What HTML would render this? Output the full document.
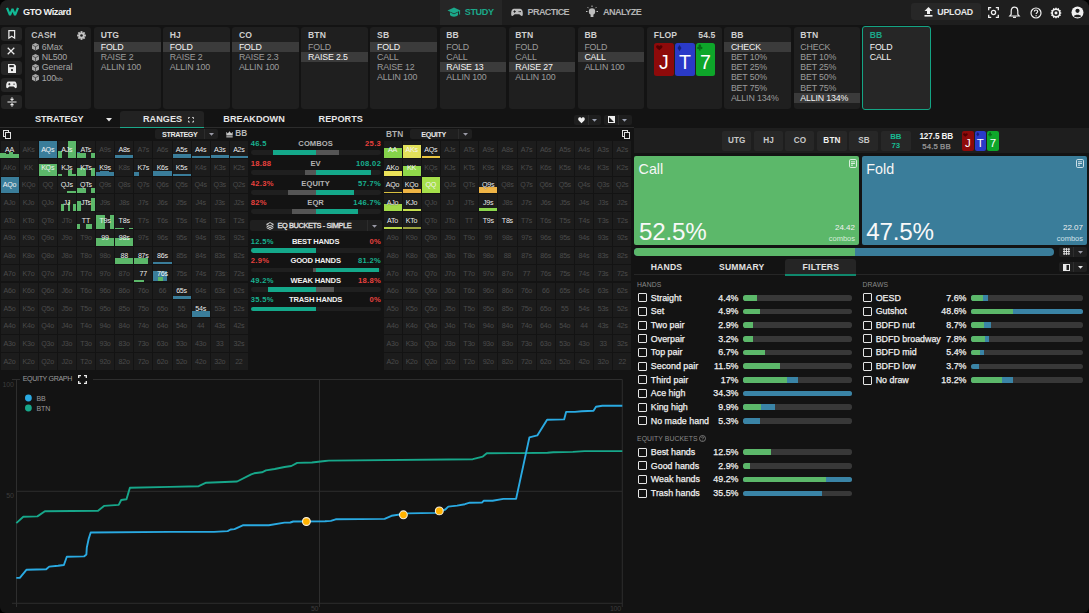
<!DOCTYPE html><html><head><meta charset="utf-8"><style>

*{box-sizing:border-box;margin:0;padding:0}
html,body{width:1089px;height:613px;overflow:hidden;background:#000;font-family:"Liberation Sans", sans-serif;}
#app{position:absolute;left:0;top:0;width:1089px;height:613px;background:#131313;border-radius:8px 8px 6px 6px;overflow:hidden}
.abs{position:absolute}
.t{position:absolute;white-space:nowrap;line-height:1}
svg{position:absolute;overflow:visible}

</style></head><body><div id="app">
<div class="abs" style="left:0.00px;top:0.00px;width:1089.00px;height:24.80px;background:#1e1e1e;"></div>
<svg style="left:5px;top:6px" width="16" height="12" viewBox="0 0 16 12"><path d="M2.0 1.8 L5.0 9.2 L7.5 3.0 L10.0 9.2 L13.0 1.8" fill="none" stroke="#12b894" stroke-width="2.2" stroke-linejoin="bevel"/></svg>
<div class="t" style="top:7.57px;font-size:9.2px;color:#f2f2f2;font-weight:700;letter-spacing:-0.45px;left:23.00px;">GTO Wizard</div>
<div class="abs" style="left:439.50px;top:0.00px;width:62.80px;height:24.80px;background:#262626;"></div>
<svg style="left:447px;top:7px" width="14" height="11" viewBox="0 0 14 11"><path d="M7 0.5 L13.5 3.5 L7 6.5 L0.5 3.5 Z" fill="#1ba88a"/><path d="M3 5.3 V8 C4.5 10.3 9.5 10.3 11 8 V5.3 L7 7.2 Z" fill="#1ba88a"/><path d="M12.6 4 V7.5" stroke="#1ba88a" stroke-width="1"/></svg>
<div class="t" style="top:8.01px;font-size:9.1px;color:#1ba88a;font-weight:700;letter-spacing:-0.4px;left:464.80px;">STUDY</div>
<svg style="left:511px;top:8.3px" width="12" height="9" viewBox="0 0 13 9"><path d="M3 0.5 H10 C12 0.5 12.8 3 12.8 6 C12.8 8.5 11.5 8.8 10.3 7.6 L9 6.3 H4 L2.7 7.6 C1.5 8.8 0.2 8.5 0.2 6 C0.2 3 1 0.5 3 0.5 Z" fill="#bdbdbd"/><rect x="2.6" y="3" width="2.6" height="1" fill="#1e1e1e"/><rect x="3.4" y="2.2" width="1" height="2.6" fill="#1e1e1e"/><circle cx="8.8" cy="3.5" r="0.7" fill="#1e1e1e"/><circle cx="10.2" cy="3.5" r="0.7" fill="#1e1e1e"/></svg>
<div class="t" style="top:8.01px;font-size:9.1px;color:#b4b4b4;font-weight:700;letter-spacing:-0.62px;left:527.50px;">PRACTICE</div>
<svg style="left:585px;top:5px" width="14" height="14" viewBox="0 0 14 14"><circle cx="7" cy="6.5" r="3.2" fill="#bdbdbd"/><rect x="5.6" y="9" width="2.8" height="3" fill="#bdbdbd"/><path d="M7 0.5V2 M1 6.5H2.5 M11.5 6.5H13 M2.6 2.2L3.6 3.2 M11.4 2.2L10.4 3.2" stroke="#bdbdbd" stroke-width="1"/></svg>
<div class="t" style="top:8.01px;font-size:9.1px;color:#b4b4b4;font-weight:700;letter-spacing:-0.55px;left:603.00px;">ANALYZE</div>
<div class="abs" style="left:911.00px;top:3.10px;width:69.70px;height:16.90px;background:#272727;border-radius:3px"></div>
<svg style="left:924px;top:7px" width="9" height="10" viewBox="0 0 9 10"><path d="M4.5 0 L8.5 4 H6 V7 H3 V4 H0.5 Z" fill="#f0f0f0"/><rect x="0.5" y="8" width="8" height="1.6" fill="#f0f0f0"/></svg>
<div class="t" style="top:7.76px;font-size:8.8px;color:#e8e8e8;font-weight:700;letter-spacing:-0.25px;left:937.30px;">UPLOAD</div>
<svg style="left:988px;top:7px" width="11" height="11" viewBox="0 0 11 11"><path d="M0.7 3.2V0.7H3.2 M7.8 0.7H10.3V3.2 M10.3 7.8V10.3H7.8 M3.2 10.3H0.7V7.8" fill="none" stroke="#f0f0f0" stroke-width="1.3"/><circle cx="5.5" cy="5.5" r="2.1" fill="none" stroke="#f0f0f0" stroke-width="1.3"/></svg>
<svg style="left:1009px;top:6px" width="11" height="13" viewBox="0 0 11 13"><path d="M5.5 1.2 C2.8 1.2 2.2 3.5 2.2 5.5 V8.3 L0.8 10 H10.2 L8.8 8.3 V5.5 C8.8 3.5 8.2 1.2 5.5 1.2 Z" fill="none" stroke="#f0f0f0" stroke-width="1.2"/><path d="M4 11.3 H7" stroke="#f0f0f0" stroke-width="1.3"/></svg>
<svg style="left:1030px;top:6.5px" width="12" height="12" viewBox="0 0 12 12"><circle cx="6" cy="6" r="5" fill="none" stroke="#f0f0f0" stroke-width="1.2"/><path d="M4.3 4.6 C4.3 3.5 5 3 6 3 C7 3 7.7 3.6 7.7 4.5 C7.7 5.6 6.1 5.8 6.1 7" fill="none" stroke="#f0f0f0" stroke-width="1.2"/><circle cx="6.1" cy="8.8" r="0.7" fill="#f0f0f0"/></svg>
<svg style="left:1050px;top:6.5px" width="12" height="12" viewBox="0 0 13 13"><path d="M6.5 0.3 L7.7 1.8 L9.6 1.2 L10 3 L11.8 3.6 L11.2 5.4 L12.7 6.5 L11.2 7.6 L11.8 9.4 L10 10 L9.6 11.8 L7.7 11.2 L6.5 12.7 L5.3 11.2 L3.4 11.8 L3 10 L1.2 9.4 L1.8 7.6 L0.3 6.5 L1.8 5.4 L1.2 3.6 L3 3 L3.4 1.2 L5.3 1.8 Z" fill="#f0f0f0"/><circle cx="6.5" cy="6.5" r="3.3" fill="#1e1e1e"/><circle cx="6.5" cy="6.5" r="1.6" fill="#f0f0f0"/></svg>
<svg style="left:1071px;top:6px" width="13" height="13" viewBox="0 0 13 13"><circle cx="6.5" cy="6.5" r="6" fill="#f0f0f0"/><circle cx="6.5" cy="4.8" r="2.1" fill="#1e1e1e"/><path d="M2.8 10.2 C3.5 8.2 9.5 8.2 10.2 10.2 C9 11.6 4 11.6 2.8 10.2Z" fill="#1e1e1e"/></svg>
<div class="abs" style="left:0.00px;top:24.80px;width:1089.00px;height:103.00px;background:#131313;"></div>
<div class="abs" style="left:1.10px;top:27.40px;width:20.80px;height:14.10px;background:#252525;border-radius:3px"></div>
<div class="abs" style="left:1.10px;top:44.00px;width:20.80px;height:14.30px;background:#252525;border-radius:3px"></div>
<div class="abs" style="left:1.10px;top:61.00px;width:20.80px;height:14.00px;background:#252525;border-radius:3px"></div>
<div class="abs" style="left:1.10px;top:77.90px;width:20.80px;height:14.10px;background:#252525;border-radius:3px"></div>
<div class="abs" style="left:1.10px;top:95.00px;width:20.80px;height:13.60px;background:#252525;border-radius:3px"></div>
<svg style="left:8px;top:30.3px" width="7.5" height="9" viewBox="0 0 9 11"><path d="M1 0.8 H8 V10 L4.5 7.5 L1 10 Z" fill="none" stroke="#ececec" stroke-width="1.5"/></svg>
<svg style="left:7.3px;top:47px" width="8" height="8" viewBox="0 0 9 9"><path d="M0.8 0.8 L8.2 8.2 M8.2 0.8 L0.8 8.2" stroke="#ececec" stroke-width="1.4"/></svg>
<svg style="left:7.5px;top:63.8px" width="8" height="9" viewBox="0 0 9 10"><path d="M0 0 H7 L9 2 V10 H0 Z" fill="#ececec"/><rect x="1.5" y="1.2" width="5" height="2.3" fill="#252525"/><circle cx="4.5" cy="6.8" r="1.3" fill="#252525"/></svg>
<svg style="left:6px;top:81px" width="11" height="8" viewBox="0 0 13 9"><path d="M3 0.5 H10 C12 0.5 12.8 3 12.8 6 C12.8 8.5 11.5 8.8 10.3 7.6 L9 6.3 H4 L2.7 7.6 C1.5 8.8 0.2 8.5 0.2 6 C0.2 3 1 0.5 3 0.5 Z" fill="#ececec"/><rect x="2.6" y="3" width="2.6" height="1" fill="#252525"/><rect x="3.4" y="2.2" width="1" height="2.6" fill="#252525"/><circle cx="9.5" cy="3.5" r="0.8" fill="#252525"/></svg>
<svg style="left:6.5px;top:97px" width="10" height="10" viewBox="0 0 11 11"><path d="M0.5 5.5 H10.5" stroke="#ececec" stroke-width="1.3"/><path d="M5.5 0.3 V3.5 M3.8 2 L5.5 3.6 L7.2 2 M5.5 10.7 V7.5 M3.8 9 L5.5 7.4 L7.2 9" fill="none" stroke="#ececec" stroke-width="1.2"/></svg>
<div class="abs" style="left:24.50px;top:27.40px;width:66.90px;height:81.20px;background:#1f1f1f;border-radius:3px"></div>
<div class="t" style="top:31.45px;font-size:8.6px;color:#c4c4c4;font-weight:700;letter-spacing:0.1px;left:31.30px;">CASH</div>
<svg style="left:77.2px;top:31.2px" width="9" height="9" viewBox="-4.5 -4.5 9 9"><circle r="3.1" fill="#c4c4c4"/><rect x="-0.95" y="-4.4" width="1.9" height="2.4" transform="rotate(0)" fill="#c4c4c4"/><rect x="-0.95" y="-4.4" width="1.9" height="2.4" transform="rotate(45)" fill="#c4c4c4"/><rect x="-0.95" y="-4.4" width="1.9" height="2.4" transform="rotate(90)" fill="#c4c4c4"/><rect x="-0.95" y="-4.4" width="1.9" height="2.4" transform="rotate(135)" fill="#c4c4c4"/><rect x="-0.95" y="-4.4" width="1.9" height="2.4" transform="rotate(180)" fill="#c4c4c4"/><rect x="-0.95" y="-4.4" width="1.9" height="2.4" transform="rotate(225)" fill="#c4c4c4"/><rect x="-0.95" y="-4.4" width="1.9" height="2.4" transform="rotate(270)" fill="#c4c4c4"/><rect x="-0.95" y="-4.4" width="1.9" height="2.4" transform="rotate(315)" fill="#c4c4c4"/><circle r="1.3" fill="#1f1f1f"/></svg>
<svg style="left:32px;top:43.40px" width="7" height="7.5" viewBox="0 0 7 7.5"><path d="M3.5 0 L7 1.8 V5.7 L3.5 7.5 L0 5.7 V1.8 Z" fill="#a8a8a8"/><path d="M0.3 2 L3.5 3.7 L6.7 2 M3.5 3.7 V7.3" fill="none" stroke="#1f1f1f" stroke-width="0.6"/></svg>
<div class="t" style="top:42.76px;font-size:8.8px;color:#a6a6a6;letter-spacing:-0.1px;left:41.70px;">6Max</div>
<svg style="left:32px;top:53.65px" width="7" height="7.5" viewBox="0 0 7 7.5"><path d="M3.5 0 L7 1.8 V5.7 L3.5 7.5 L0 5.7 V1.8 Z" fill="#a8a8a8"/><path d="M0.3 2 L3.5 3.7 L6.7 2 M3.5 3.7 V7.3" fill="none" stroke="#1f1f1f" stroke-width="0.6"/></svg>
<div class="t" style="top:53.01px;font-size:8.8px;color:#a6a6a6;letter-spacing:-0.1px;left:41.70px;">NL500</div>
<svg style="left:32px;top:63.90px" width="7" height="7.5" viewBox="0 0 7 7.5"><path d="M3.5 0 L7 1.8 V5.7 L3.5 7.5 L0 5.7 V1.8 Z" fill="#a8a8a8"/><path d="M0.3 2 L3.5 3.7 L6.7 2 M3.5 3.7 V7.3" fill="none" stroke="#1f1f1f" stroke-width="0.6"/></svg>
<div class="t" style="top:63.26px;font-size:8.8px;color:#a6a6a6;letter-spacing:-0.1px;left:41.70px;">General</div>
<svg style="left:32px;top:74.15px" width="7" height="7.5" viewBox="0 0 7 7.5"><path d="M3.5 0 L7 1.8 V5.7 L3.5 7.5 L0 5.7 V1.8 Z" fill="#a8a8a8"/><path d="M0.3 2 L3.5 3.7 L6.7 2 M3.5 3.7 V7.3" fill="none" stroke="#1f1f1f" stroke-width="0.6"/></svg>
<div class="t" style="top:73.51px;font-size:8.8px;color:#a6a6a6;letter-spacing:-0.1px;left:41.70px;">100<span style="font-size:6px">bb</span></div>
<div class="abs" style="left:94.00px;top:27.40px;width:66.70px;height:81.20px;background:#1f1f1f;border-radius:3px"></div>
<div class="t" style="top:31.45px;font-size:8.6px;color:#cfcfcf;font-weight:700;letter-spacing:0.1px;left:100.70px;">UTG</div>
<div class="abs" style="left:94.00px;top:41.80px;width:66.70px;height:10.10px;background:#3b3b3b;"></div>
<div class="t" style="top:42.66px;font-size:8.8px;color:#f4f4f4;letter-spacing:-0.15px;left:100.70px;">FOLD</div>
<div class="t" style="top:52.91px;font-size:8.8px;color:#9c9c9c;letter-spacing:-0.15px;left:100.70px;">RAISE 2</div>
<div class="t" style="top:63.16px;font-size:8.8px;color:#9c9c9c;letter-spacing:-0.15px;left:100.70px;">ALLIN 100</div>
<div class="abs" style="left:163.10px;top:27.40px;width:66.70px;height:81.20px;background:#1f1f1f;border-radius:3px"></div>
<div class="t" style="top:31.45px;font-size:8.6px;color:#cfcfcf;font-weight:700;letter-spacing:0.1px;left:169.80px;">HJ</div>
<div class="abs" style="left:163.10px;top:41.80px;width:66.70px;height:10.10px;background:#3b3b3b;"></div>
<div class="t" style="top:42.66px;font-size:8.8px;color:#f4f4f4;letter-spacing:-0.15px;left:169.80px;">FOLD</div>
<div class="t" style="top:52.91px;font-size:8.8px;color:#9c9c9c;letter-spacing:-0.15px;left:169.80px;">RAISE 2</div>
<div class="t" style="top:63.16px;font-size:8.8px;color:#9c9c9c;letter-spacing:-0.15px;left:169.80px;">ALLIN 100</div>
<div class="abs" style="left:232.20px;top:27.40px;width:66.70px;height:81.20px;background:#1f1f1f;border-radius:3px"></div>
<div class="t" style="top:31.45px;font-size:8.6px;color:#cfcfcf;font-weight:700;letter-spacing:0.1px;left:238.90px;">CO</div>
<div class="abs" style="left:232.20px;top:41.80px;width:66.70px;height:10.10px;background:#3b3b3b;"></div>
<div class="t" style="top:42.66px;font-size:8.8px;color:#f4f4f4;letter-spacing:-0.15px;left:238.90px;">FOLD</div>
<div class="t" style="top:52.91px;font-size:8.8px;color:#9c9c9c;letter-spacing:-0.15px;left:238.90px;">RAISE 2.3</div>
<div class="t" style="top:63.16px;font-size:8.8px;color:#9c9c9c;letter-spacing:-0.15px;left:238.90px;">ALLIN 100</div>
<div class="abs" style="left:301.30px;top:27.40px;width:66.70px;height:81.20px;background:#1f1f1f;border-radius:3px"></div>
<div class="t" style="top:31.45px;font-size:8.6px;color:#cfcfcf;font-weight:700;letter-spacing:0.1px;left:308.00px;">BTN</div>
<div class="t" style="top:42.66px;font-size:8.8px;color:#9c9c9c;letter-spacing:-0.15px;left:308.00px;">FOLD</div>
<div class="abs" style="left:301.30px;top:52.05px;width:66.70px;height:10.10px;background:#3b3b3b;"></div>
<div class="t" style="top:52.91px;font-size:8.8px;color:#f4f4f4;letter-spacing:-0.15px;left:308.00px;">RAISE 2.5</div>
<div class="abs" style="left:370.40px;top:27.40px;width:66.70px;height:81.20px;background:#1f1f1f;border-radius:3px"></div>
<div class="t" style="top:31.45px;font-size:8.6px;color:#cfcfcf;font-weight:700;letter-spacing:0.1px;left:377.10px;">SB</div>
<div class="abs" style="left:370.40px;top:41.80px;width:66.70px;height:10.10px;background:#3b3b3b;"></div>
<div class="t" style="top:42.66px;font-size:8.8px;color:#f4f4f4;letter-spacing:-0.15px;left:377.10px;">FOLD</div>
<div class="t" style="top:52.91px;font-size:8.8px;color:#9c9c9c;letter-spacing:-0.15px;left:377.10px;">CALL</div>
<div class="t" style="top:63.16px;font-size:8.8px;color:#9c9c9c;letter-spacing:-0.15px;left:377.10px;">RAISE 12</div>
<div class="t" style="top:73.41px;font-size:8.8px;color:#9c9c9c;letter-spacing:-0.15px;left:377.10px;">ALLIN 100</div>
<div class="abs" style="left:439.50px;top:27.40px;width:66.70px;height:81.20px;background:#1f1f1f;border-radius:3px"></div>
<div class="t" style="top:31.45px;font-size:8.6px;color:#cfcfcf;font-weight:700;letter-spacing:0.1px;left:446.20px;">BB</div>
<div class="t" style="top:42.66px;font-size:8.8px;color:#9c9c9c;letter-spacing:-0.15px;left:446.20px;">FOLD</div>
<div class="t" style="top:52.91px;font-size:8.8px;color:#9c9c9c;letter-spacing:-0.15px;left:446.20px;">CALL</div>
<div class="abs" style="left:439.50px;top:62.30px;width:66.70px;height:10.10px;background:#3b3b3b;"></div>
<div class="t" style="top:63.16px;font-size:8.8px;color:#f4f4f4;letter-spacing:-0.15px;left:446.20px;">RAISE 13</div>
<div class="t" style="top:73.41px;font-size:8.8px;color:#9c9c9c;letter-spacing:-0.15px;left:446.20px;">ALLIN 100</div>
<div class="abs" style="left:508.60px;top:27.40px;width:66.70px;height:81.20px;background:#1f1f1f;border-radius:3px"></div>
<div class="t" style="top:31.45px;font-size:8.6px;color:#cfcfcf;font-weight:700;letter-spacing:0.1px;left:515.30px;">BTN</div>
<div class="t" style="top:42.66px;font-size:8.8px;color:#9c9c9c;letter-spacing:-0.15px;left:515.30px;">FOLD</div>
<div class="t" style="top:52.91px;font-size:8.8px;color:#9c9c9c;letter-spacing:-0.15px;left:515.30px;">CALL</div>
<div class="abs" style="left:508.60px;top:62.30px;width:66.70px;height:10.10px;background:#3b3b3b;"></div>
<div class="t" style="top:63.16px;font-size:8.8px;color:#f4f4f4;letter-spacing:-0.15px;left:515.30px;">RAISE 27</div>
<div class="t" style="top:73.41px;font-size:8.8px;color:#9c9c9c;letter-spacing:-0.15px;left:515.30px;">ALLIN 100</div>
<div class="abs" style="left:577.70px;top:27.40px;width:66.70px;height:81.20px;background:#1f1f1f;border-radius:3px"></div>
<div class="t" style="top:31.45px;font-size:8.6px;color:#cfcfcf;font-weight:700;letter-spacing:0.1px;left:584.40px;">BB</div>
<div class="t" style="top:42.66px;font-size:8.8px;color:#9c9c9c;letter-spacing:-0.15px;left:584.40px;">FOLD</div>
<div class="abs" style="left:577.70px;top:52.05px;width:66.70px;height:10.10px;background:#3b3b3b;"></div>
<div class="t" style="top:52.91px;font-size:8.8px;color:#f4f4f4;letter-spacing:-0.15px;left:584.40px;">CALL</div>
<div class="t" style="top:63.16px;font-size:8.8px;color:#9c9c9c;letter-spacing:-0.15px;left:584.40px;">ALLIN 100</div>
<div class="abs" style="left:647.10px;top:27.40px;width:74.90px;height:81.20px;background:#1f1f1f;border-radius:3px"></div>
<div class="t" style="top:31.45px;font-size:8.6px;color:#cfcfcf;font-weight:700;letter-spacing:0.1px;left:653.80px;">FLOP</div>
<div class="t" style="top:31.45px;font-size:8.6px;color:#cfcfcf;font-weight:700;letter-spacing:0.1px;right:373.50px;">54.5</div>
<div class="abs" style="left:654.00px;top:42.90px;width:19.80px;height:32.80px;background:#8e0a0a;border-radius:2.5px"></div>
<svg style="left:655.60px;top:44.90px" width="6.6" height="5.6" viewBox="0 0 10 10" preserveAspectRatio="none"><path d="M5 9.2 L1 5.2 C-0.6 3.6 0 0.6 2.6 0.6 C3.7 0.6 4.5 1.3 5 2.2 C5.5 1.3 6.3 0.6 7.4 0.6 C10 0.6 10.6 3.6 9 5.2 Z" fill="#520000"/></svg>
<div class="t" style="left:654.00px;width:19.80px;text-align:center;top:52.74px;font-size:19.5px;color:#fff">J</div>
<div class="abs" style="left:675.10px;top:42.90px;width:19.60px;height:32.80px;background:#2a3ac8;border-radius:2.5px"></div>
<svg style="left:677.10px;top:44.60px" width="5.0" height="6.2" viewBox="0 0 10 10" preserveAspectRatio="none"><path d="M5 0 L9 5 L5 10 L1 5 Z" fill="#15207a"/></svg>
<div class="t" style="left:675.10px;width:19.60px;text-align:center;top:52.74px;font-size:19.5px;color:#fff">T</div>
<div class="abs" style="left:696.00px;top:42.90px;width:18.90px;height:32.80px;background:#0ea62a;border-radius:2.5px"></div>
<svg style="left:697.40px;top:44.40px" width="5.6" height="6.6" viewBox="0 0 10 10" preserveAspectRatio="none"><path d="M5 0.3 C6.6 0.3 7.5 1.5 7.3 3 C6.9 4.2 6.4 4.3 6.4 4.3 C7.8 3.7 9.8 4.4 9.8 6.1 C9.8 7.8 7.6 8.6 5.9 7 L6.6 9.7 H3.4 L4.1 7 C2.4 8.6 0.2 7.8 0.2 6.1 C0.2 4.4 2.2 3.7 3.6 4.3 C3.6 4.3 3.1 4.2 2.7 3 C2.5 1.5 3.4 0.3 5 0.3 Z" fill="#066a16"/></svg>
<div class="t" style="left:696.00px;width:18.90px;text-align:center;top:52.74px;font-size:19.5px;color:#fff">7</div>
<div class="abs" style="left:724.20px;top:27.40px;width:66.90px;height:81.20px;background:#1f1f1f;border-radius:3px"></div>
<div class="t" style="top:31.45px;font-size:8.6px;color:#cfcfcf;font-weight:700;letter-spacing:0.1px;left:730.90px;">BB</div>
<div class="abs" style="left:724.20px;top:41.80px;width:66.90px;height:10.10px;background:#3b3b3b;"></div>
<div class="t" style="top:42.66px;font-size:8.8px;color:#f4f4f4;letter-spacing:-0.15px;left:730.90px;">CHECK</div>
<div class="t" style="top:52.91px;font-size:8.8px;color:#9c9c9c;letter-spacing:-0.15px;left:730.90px;">BET 10%</div>
<div class="t" style="top:63.16px;font-size:8.8px;color:#9c9c9c;letter-spacing:-0.15px;left:730.90px;">BET 25%</div>
<div class="t" style="top:73.41px;font-size:8.8px;color:#9c9c9c;letter-spacing:-0.15px;left:730.90px;">BET 50%</div>
<div class="t" style="top:83.66px;font-size:8.8px;color:#9c9c9c;letter-spacing:-0.15px;left:730.90px;">BET 75%</div>
<div class="t" style="top:93.91px;font-size:8.8px;color:#9c9c9c;letter-spacing:-0.15px;left:730.90px;">ALLIN 134%</div>
<div class="abs" style="left:793.60px;top:27.40px;width:66.80px;height:81.20px;background:#1f1f1f;border-radius:3px"></div>
<div class="t" style="top:31.45px;font-size:8.6px;color:#cfcfcf;font-weight:700;letter-spacing:0.1px;left:800.30px;">BTN</div>
<div class="t" style="top:42.66px;font-size:8.8px;color:#9c9c9c;letter-spacing:-0.15px;left:800.30px;">CHECK</div>
<div class="t" style="top:52.91px;font-size:8.8px;color:#9c9c9c;letter-spacing:-0.15px;left:800.30px;">BET 10%</div>
<div class="t" style="top:63.16px;font-size:8.8px;color:#9c9c9c;letter-spacing:-0.15px;left:800.30px;">BET 25%</div>
<div class="t" style="top:73.41px;font-size:8.8px;color:#9c9c9c;letter-spacing:-0.15px;left:800.30px;">BET 50%</div>
<div class="t" style="top:83.66px;font-size:8.8px;color:#9c9c9c;letter-spacing:-0.15px;left:800.30px;">BET 75%</div>
<div class="abs" style="left:793.60px;top:93.05px;width:66.80px;height:10.10px;background:#3b3b3b;"></div>
<div class="t" style="top:93.91px;font-size:8.8px;color:#f4f4f4;letter-spacing:-0.15px;left:800.30px;">ALLIN 134%</div>
<div class="abs" style="left:861.50px;top:26.20px;width:69.10px;height:83.80px;background:#262626;border:1.6px solid #14a484;border-radius:3px"></div>
<div class="t" style="top:31.45px;font-size:8.6px;color:#1ba88a;font-weight:700;letter-spacing:0.1px;left:869.70px;">BB</div>
<div class="t" style="top:42.66px;font-size:8.8px;color:#f4f4f4;letter-spacing:-0.15px;left:869.70px;">FOLD</div>
<div class="t" style="top:52.91px;font-size:8.8px;color:#f4f4f4;letter-spacing:-0.15px;left:869.70px;">CALL</div>
<div class="abs" style="left:120.30px;top:111.00px;width:83.50px;height:16.50px;background:#222222;border-radius:3px 3px 0 0"></div>
<div class="abs" style="left:0.00px;top:126.80px;width:634.00px;height:1.00px;background:#2c2c2c;"></div>
<div class="abs" style="left:120.30px;top:126.60px;width:83.60px;height:1.30px;background:#1ba88a;"></div>
<div class="t" style="top:114.91px;font-size:9.1px;color:#e6e6e6;font-weight:700;letter-spacing:-0.05px;left:35.00px;">STRATEGY</div>
<svg style="left:105.5px;top:117.5px" width="6" height="4" viewBox="0 0 6 4"><path d="M0 0 H6 L3 3.5Z" fill="#e6e6e6"/></svg>
<div class="t" style="top:114.91px;font-size:9.1px;color:#e6e6e6;font-weight:700;letter-spacing:0.05px;left:143.00px;">RANGES</div>
<svg style="left:188.3px;top:116.5px" width="6" height="5.5" viewBox="0 0 6.5 6"><path d="M0.5 2V0.5H2 M4.5 0.5H6V2 M6 4V5.5H4.5 M2 5.5H0.5V4" fill="none" stroke="#e6e6e6" stroke-width="1"/></svg>
<div class="t" style="top:114.91px;font-size:9.1px;color:#e6e6e6;font-weight:700;letter-spacing:0.05px;left:223.30px;">BREAKDOWN</div>
<div class="t" style="top:114.91px;font-size:9.1px;color:#e6e6e6;font-weight:700;letter-spacing:0.05px;left:318.60px;">REPORTS</div>
<div class="abs" style="left:574.00px;top:115.00px;width:27.40px;height:9.50px;background:#1e1e1e;border-radius:2px"></div>
<div class="abs" style="left:587.60px;top:115.00px;width:0.80px;height:9.50px;background:#2e2e2e;"></div>
<svg style="left:577.5px;top:116.5px" width="7" height="6.5" viewBox="0 0 7 6.5"><path d="M3.5 6.2 L0.7 3.4 C-0.3 2.3 0.2 0.3 1.8 0.3 C2.6 0.3 3.2 0.8 3.5 1.4 C3.8 0.8 4.4 0.3 5.2 0.3 C6.8 0.3 7.3 2.3 6.3 3.4 Z" fill="#f0f0f0"/></svg>
<svg style="left:591.5px;top:118.5px" width="5" height="3" viewBox="0 0 5 3"><path d="M0 0H5L2.5 2.8Z" fill="#9aa0b0"/></svg>
<div class="abs" style="left:604.20px;top:115.00px;width:27.60px;height:9.50px;background:#1e1e1e;border-radius:2px"></div>
<div class="abs" style="left:617.80px;top:115.00px;width:0.80px;height:9.50px;background:#2e2e2e;"></div>
<svg style="left:607.5px;top:116.3px" width="7" height="7" viewBox="0 0 7 7"><rect x="0.5" y="0.5" width="6" height="6" fill="none" stroke="#f0f0f0" stroke-width="1"/><path d="M0.5 0.5 L6.5 6.5 V0.5Z" fill="#f0f0f0"/></svg>
<svg style="left:621.5px;top:118.5px" width="5" height="3" viewBox="0 0 5 3"><path d="M0 0H5L2.5 2.8Z" fill="#9aa0b0"/></svg>
<div class="abs" style="left:0.00px;top:140.80px;width:248.56px;height:229.45px;background:#131313;"></div>
<div class="abs" style="left:0.50px;top:141.30px;width:18.12px;height:16.65px;background:#1c1c1c;"></div>
<div class="abs" style="left:0.00px;top:152.65px;width:6.00px;height:5.30px;background:#5cb86a;"></div>
<div class="abs" style="left:6.00px;top:153.75px;width:3.00px;height:4.20px;background:#5cb86a;"></div>
<div class="abs" style="left:9.00px;top:152.15px;width:4.00px;height:5.80px;background:#5cb86a;"></div>
<div class="abs" style="left:13.00px;top:154.45px;width:3.00px;height:3.50px;background:#5cb86a;"></div>
<div class="abs" style="left:16.00px;top:153.95px;width:3.00px;height:4.00px;background:#5cb86a;"></div>
<div class="abs" style="left:19.62px;top:141.30px;width:18.12px;height:16.65px;background:#1c1c1c;"></div>
<div class="abs" style="left:38.74px;top:141.30px;width:18.12px;height:16.65px;background:#3a7d9a;"></div>
<div class="abs" style="left:57.86px;top:141.30px;width:18.12px;height:16.65px;background:#1c1c1c;"></div>
<div class="abs" style="left:58.00px;top:150.75px;width:4.00px;height:7.20px;background:#5cb86a;"></div>
<div class="abs" style="left:68.00px;top:140.95px;width:8.00px;height:17.00px;background:#5cb86a;"></div>
<div class="abs" style="left:76.98px;top:141.30px;width:18.12px;height:16.65px;background:#1c1c1c;"></div>
<div class="abs" style="left:77.00px;top:152.15px;width:3.00px;height:5.80px;background:#3a7d9a;"></div>
<div class="abs" style="left:77.00px;top:153.15px;width:9.00px;height:4.80px;background:#5cb86a;"></div>
<div class="abs" style="left:91.00px;top:152.95px;width:4.00px;height:5.00px;background:#5cb86a;"></div>
<div class="abs" style="left:96.10px;top:141.30px;width:18.12px;height:16.65px;background:#1c1c1c;"></div>
<div class="abs" style="left:115.22px;top:141.30px;width:18.12px;height:16.65px;background:#1c1c1c;"></div>
<div class="abs" style="left:115.00px;top:154.95px;width:18.00px;height:3.00px;background:#3a7d9a;"></div>
<div class="abs" style="left:134.34px;top:141.30px;width:18.12px;height:16.65px;background:#1c1c1c;"></div>
<div class="abs" style="left:153.46px;top:141.30px;width:18.12px;height:16.65px;background:#1c1c1c;"></div>
<div class="abs" style="left:172.58px;top:141.30px;width:18.12px;height:16.65px;background:#1c1c1c;"></div>
<div class="abs" style="left:173.00px;top:154.15px;width:18.00px;height:3.80px;background:#3a7d9a;"></div>
<div class="abs" style="left:191.70px;top:141.30px;width:18.12px;height:16.65px;background:#1c1c1c;"></div>
<div class="abs" style="left:192.00px;top:156.15px;width:18.00px;height:1.80px;background:#3a7d9a;"></div>
<div class="abs" style="left:210.82px;top:141.30px;width:18.12px;height:16.65px;background:#1c1c1c;"></div>
<div class="abs" style="left:211.00px;top:155.15px;width:18.00px;height:2.80px;background:#3a7d9a;"></div>
<div class="abs" style="left:229.94px;top:141.30px;width:18.12px;height:16.65px;background:#1c1c1c;"></div>
<div class="abs" style="left:230.00px;top:156.15px;width:18.00px;height:1.80px;background:#3a7d9a;"></div>
<div class="abs" style="left:0.50px;top:158.95px;width:18.12px;height:16.65px;background:#1c1c1c;"></div>
<div class="abs" style="left:19.62px;top:158.95px;width:18.12px;height:16.65px;background:#1c1c1c;"></div>
<div class="abs" style="left:38.74px;top:158.95px;width:18.12px;height:16.65px;background:#1c1c1c;"></div>
<div class="abs" style="left:39.00px;top:164.00px;width:18.00px;height:11.60px;background:#5cb86a;"></div>
<div class="abs" style="left:57.86px;top:158.95px;width:18.12px;height:16.65px;background:#1c1c1c;"></div>
<div class="abs" style="left:58.00px;top:174.10px;width:4.00px;height:1.50px;background:#5cb86a;"></div>
<div class="abs" style="left:68.00px;top:169.60px;width:4.00px;height:6.00px;background:#5cb86a;"></div>
<div class="abs" style="left:72.00px;top:174.10px;width:4.00px;height:1.50px;background:#5cb86a;"></div>
<div class="abs" style="left:76.98px;top:158.95px;width:18.12px;height:16.65px;background:#1c1c1c;"></div>
<div class="abs" style="left:77.00px;top:167.80px;width:9.00px;height:7.80px;background:#5cb86a;"></div>
<div class="abs" style="left:91.00px;top:167.60px;width:4.00px;height:8.00px;background:#5cb86a;"></div>
<div class="abs" style="left:96.10px;top:158.95px;width:18.12px;height:16.65px;background:#1c1c1c;"></div>
<div class="abs" style="left:96.00px;top:171.80px;width:18.00px;height:3.80px;background:#3a7d9a;"></div>
<div class="abs" style="left:100.00px;top:170.90px;width:9.00px;height:4.70px;background:#3a7d9a;"></div>
<div class="abs" style="left:115.22px;top:158.95px;width:18.12px;height:16.65px;background:#1c1c1c;"></div>
<div class="abs" style="left:134.34px;top:158.95px;width:18.12px;height:16.65px;background:#1c1c1c;"></div>
<div class="abs" style="left:134.00px;top:172.30px;width:5.00px;height:3.30px;background:#3a7d9a;"></div>
<div class="abs" style="left:153.46px;top:158.95px;width:18.12px;height:16.65px;background:#1c1c1c;"></div>
<div class="abs" style="left:153.00px;top:170.80px;width:19.00px;height:4.80px;background:#3a7d9a;"></div>
<div class="abs" style="left:172.58px;top:158.95px;width:18.12px;height:16.65px;background:#1c1c1c;"></div>
<div class="abs" style="left:173.00px;top:174.10px;width:18.00px;height:1.50px;background:#3a7d9a;"></div>
<div class="abs" style="left:191.70px;top:158.95px;width:18.12px;height:16.65px;background:#1c1c1c;"></div>
<div class="abs" style="left:210.82px;top:158.95px;width:18.12px;height:16.65px;background:#1c1c1c;"></div>
<div class="abs" style="left:229.94px;top:158.95px;width:18.12px;height:16.65px;background:#1c1c1c;"></div>
<div class="abs" style="left:0.50px;top:176.60px;width:18.12px;height:16.65px;background:#3a7d9a;"></div>
<div class="abs" style="left:19.62px;top:176.60px;width:18.12px;height:16.65px;background:#1c1c1c;"></div>
<div class="abs" style="left:38.74px;top:176.60px;width:18.12px;height:16.65px;background:#1c1c1c;"></div>
<div class="abs" style="left:57.86px;top:176.60px;width:18.12px;height:16.65px;background:#1c1c1c;"></div>
<div class="abs" style="left:67.00px;top:191.35px;width:9.00px;height:1.90px;background:#5cb86a;"></div>
<div class="abs" style="left:76.98px;top:176.60px;width:18.12px;height:16.65px;background:#1c1c1c;"></div>
<div class="abs" style="left:77.00px;top:188.45px;width:9.00px;height:4.80px;background:#5cb86a;"></div>
<div class="abs" style="left:91.00px;top:188.45px;width:4.00px;height:4.80px;background:#5cb86a;"></div>
<div class="abs" style="left:96.10px;top:176.60px;width:18.12px;height:16.65px;background:#1c1c1c;"></div>
<div class="abs" style="left:115.22px;top:176.60px;width:18.12px;height:16.65px;background:#1c1c1c;"></div>
<div class="abs" style="left:134.34px;top:176.60px;width:18.12px;height:16.65px;background:#1c1c1c;"></div>
<div class="abs" style="left:153.46px;top:176.60px;width:18.12px;height:16.65px;background:#1c1c1c;"></div>
<div class="abs" style="left:172.58px;top:176.60px;width:18.12px;height:16.65px;background:#1c1c1c;"></div>
<div class="abs" style="left:191.70px;top:176.60px;width:18.12px;height:16.65px;background:#1c1c1c;"></div>
<div class="abs" style="left:210.82px;top:176.60px;width:18.12px;height:16.65px;background:#1c1c1c;"></div>
<div class="abs" style="left:229.94px;top:176.60px;width:18.12px;height:16.65px;background:#1c1c1c;"></div>
<div class="abs" style="left:0.50px;top:194.25px;width:18.12px;height:16.65px;background:#1c1c1c;"></div>
<div class="abs" style="left:19.62px;top:194.25px;width:18.12px;height:16.65px;background:#1c1c1c;"></div>
<div class="abs" style="left:38.74px;top:194.25px;width:18.12px;height:16.65px;background:#1c1c1c;"></div>
<div class="abs" style="left:57.86px;top:194.25px;width:18.12px;height:16.65px;background:#1c1c1c;"></div>
<div class="abs" style="left:61.00px;top:204.30px;width:3.00px;height:6.60px;background:#5cb86a;"></div>
<div class="abs" style="left:68.00px;top:201.90px;width:2.00px;height:9.00px;background:#5cb86a;"></div>
<div class="abs" style="left:73.00px;top:204.30px;width:3.00px;height:6.60px;background:#5cb86a;"></div>
<div class="abs" style="left:76.98px;top:194.25px;width:18.12px;height:16.65px;background:#1c1c1c;"></div>
<div class="abs" style="left:77.00px;top:200.50px;width:4.00px;height:10.40px;background:#5cb86a;"></div>
<div class="abs" style="left:91.00px;top:198.00px;width:4.00px;height:12.90px;background:#5cb86a;"></div>
<div class="abs" style="left:96.10px;top:194.25px;width:18.12px;height:16.65px;background:#1c1c1c;"></div>
<div class="abs" style="left:115.22px;top:194.25px;width:18.12px;height:16.65px;background:#1c1c1c;"></div>
<div class="abs" style="left:134.34px;top:194.25px;width:18.12px;height:16.65px;background:#1c1c1c;"></div>
<div class="abs" style="left:153.46px;top:194.25px;width:18.12px;height:16.65px;background:#1c1c1c;"></div>
<div class="abs" style="left:172.58px;top:194.25px;width:18.12px;height:16.65px;background:#1c1c1c;"></div>
<div class="abs" style="left:191.70px;top:194.25px;width:18.12px;height:16.65px;background:#1c1c1c;"></div>
<div class="abs" style="left:210.82px;top:194.25px;width:18.12px;height:16.65px;background:#1c1c1c;"></div>
<div class="abs" style="left:229.94px;top:194.25px;width:18.12px;height:16.65px;background:#1c1c1c;"></div>
<div class="abs" style="left:0.50px;top:211.90px;width:18.12px;height:16.65px;background:#1c1c1c;"></div>
<div class="abs" style="left:19.62px;top:211.90px;width:18.12px;height:16.65px;background:#1c1c1c;"></div>
<div class="abs" style="left:38.74px;top:211.90px;width:18.12px;height:16.65px;background:#1c1c1c;"></div>
<div class="abs" style="left:57.86px;top:211.90px;width:18.12px;height:16.65px;background:#1c1c1c;"></div>
<div class="abs" style="left:76.98px;top:211.90px;width:18.12px;height:16.65px;background:#1c1c1c;"></div>
<div class="abs" style="left:77.00px;top:224.35px;width:3.00px;height:4.20px;background:#5cb86a;"></div>
<div class="abs" style="left:86.00px;top:224.35px;width:6.00px;height:4.20px;background:#5cb86a;"></div>
<div class="abs" style="left:96.10px;top:211.90px;width:18.12px;height:16.65px;background:#1c1c1c;"></div>
<div class="abs" style="left:96.00px;top:215.45px;width:9.00px;height:13.10px;background:#5cb86a;"></div>
<div class="abs" style="left:110.00px;top:214.95px;width:4.00px;height:13.60px;background:#5cb86a;"></div>
<div class="abs" style="left:115.22px;top:211.90px;width:18.12px;height:16.65px;background:#1c1c1c;"></div>
<div class="abs" style="left:115.00px;top:227.55px;width:9.00px;height:1.00px;background:#5cb86a;"></div>
<div class="abs" style="left:129.00px;top:227.55px;width:4.00px;height:1.00px;background:#5cb86a;"></div>
<div class="abs" style="left:134.34px;top:211.90px;width:18.12px;height:16.65px;background:#1c1c1c;"></div>
<div class="abs" style="left:153.46px;top:211.90px;width:18.12px;height:16.65px;background:#1c1c1c;"></div>
<div class="abs" style="left:172.58px;top:211.90px;width:18.12px;height:16.65px;background:#1c1c1c;"></div>
<div class="abs" style="left:191.70px;top:211.90px;width:18.12px;height:16.65px;background:#1c1c1c;"></div>
<div class="abs" style="left:210.82px;top:211.90px;width:18.12px;height:16.65px;background:#1c1c1c;"></div>
<div class="abs" style="left:229.94px;top:211.90px;width:18.12px;height:16.65px;background:#1c1c1c;"></div>
<div class="abs" style="left:0.50px;top:229.55px;width:18.12px;height:16.65px;background:#1c1c1c;"></div>
<div class="abs" style="left:19.62px;top:229.55px;width:18.12px;height:16.65px;background:#1c1c1c;"></div>
<div class="abs" style="left:38.74px;top:229.55px;width:18.12px;height:16.65px;background:#1c1c1c;"></div>
<div class="abs" style="left:57.86px;top:229.55px;width:18.12px;height:16.65px;background:#1c1c1c;"></div>
<div class="abs" style="left:76.98px;top:229.55px;width:18.12px;height:16.65px;background:#1c1c1c;"></div>
<div class="abs" style="left:96.10px;top:229.55px;width:18.12px;height:16.65px;background:#1c1c1c;"></div>
<div class="abs" style="left:96.00px;top:237.80px;width:18.00px;height:8.40px;background:#5cb86a;"></div>
<div class="abs" style="left:115.22px;top:229.55px;width:18.12px;height:16.65px;background:#1c1c1c;"></div>
<div class="abs" style="left:115.00px;top:237.80px;width:18.00px;height:8.40px;background:#5cb86a;"></div>
<div class="abs" style="left:134.34px;top:229.55px;width:18.12px;height:16.65px;background:#1c1c1c;"></div>
<div class="abs" style="left:153.46px;top:229.55px;width:18.12px;height:16.65px;background:#1c1c1c;"></div>
<div class="abs" style="left:172.58px;top:229.55px;width:18.12px;height:16.65px;background:#1c1c1c;"></div>
<div class="abs" style="left:191.70px;top:229.55px;width:18.12px;height:16.65px;background:#1c1c1c;"></div>
<div class="abs" style="left:210.82px;top:229.55px;width:18.12px;height:16.65px;background:#1c1c1c;"></div>
<div class="abs" style="left:229.94px;top:229.55px;width:18.12px;height:16.65px;background:#1c1c1c;"></div>
<div class="abs" style="left:0.50px;top:247.20px;width:18.12px;height:16.65px;background:#1c1c1c;"></div>
<div class="abs" style="left:19.62px;top:247.20px;width:18.12px;height:16.65px;background:#1c1c1c;"></div>
<div class="abs" style="left:38.74px;top:247.20px;width:18.12px;height:16.65px;background:#1c1c1c;"></div>
<div class="abs" style="left:57.86px;top:247.20px;width:18.12px;height:16.65px;background:#1c1c1c;"></div>
<div class="abs" style="left:76.98px;top:247.20px;width:18.12px;height:16.65px;background:#1c1c1c;"></div>
<div class="abs" style="left:96.10px;top:247.20px;width:18.12px;height:16.65px;background:#1c1c1c;"></div>
<div class="abs" style="left:115.22px;top:247.20px;width:18.12px;height:16.65px;background:#1c1c1c;"></div>
<div class="abs" style="left:115.00px;top:257.95px;width:18.00px;height:5.90px;background:#5cb86a;"></div>
<div class="abs" style="left:134.34px;top:247.20px;width:18.12px;height:16.65px;background:#1c1c1c;"></div>
<div class="abs" style="left:134.00px;top:257.95px;width:14.00px;height:5.90px;background:#5cb86a;"></div>
<div class="abs" style="left:153.46px;top:247.20px;width:18.12px;height:16.65px;background:#1c1c1c;"></div>
<div class="abs" style="left:153.00px;top:262.45px;width:19.00px;height:1.40px;background:#3a7d9a;"></div>
<div class="abs" style="left:172.58px;top:247.20px;width:18.12px;height:16.65px;background:#1c1c1c;"></div>
<div class="abs" style="left:191.70px;top:247.20px;width:18.12px;height:16.65px;background:#1c1c1c;"></div>
<div class="abs" style="left:210.82px;top:247.20px;width:18.12px;height:16.65px;background:#1c1c1c;"></div>
<div class="abs" style="left:229.94px;top:247.20px;width:18.12px;height:16.65px;background:#1c1c1c;"></div>
<div class="abs" style="left:0.50px;top:264.85px;width:18.12px;height:16.65px;background:#1c1c1c;"></div>
<div class="abs" style="left:19.62px;top:264.85px;width:18.12px;height:16.65px;background:#1c1c1c;"></div>
<div class="abs" style="left:38.74px;top:264.85px;width:18.12px;height:16.65px;background:#1c1c1c;"></div>
<div class="abs" style="left:57.86px;top:264.85px;width:18.12px;height:16.65px;background:#1c1c1c;"></div>
<div class="abs" style="left:76.98px;top:264.85px;width:18.12px;height:16.65px;background:#1c1c1c;"></div>
<div class="abs" style="left:96.10px;top:264.85px;width:18.12px;height:16.65px;background:#1c1c1c;"></div>
<div class="abs" style="left:115.22px;top:264.85px;width:18.12px;height:16.65px;background:#1c1c1c;"></div>
<div class="abs" style="left:134.34px;top:264.85px;width:18.12px;height:16.65px;background:#1c1c1c;"></div>
<div class="abs" style="left:134.00px;top:279.50px;width:10.00px;height:2.00px;background:#5cb86a;"></div>
<div class="abs" style="left:153.46px;top:264.85px;width:18.12px;height:16.65px;background:#1c1c1c;"></div>
<div class="abs" style="left:153.00px;top:270.90px;width:14.00px;height:10.60px;background:#3a7d9a;"></div>
<div class="abs" style="left:158.00px;top:277.40px;width:5.00px;height:4.10px;background:#5cb86a;"></div>
<div class="abs" style="left:172.58px;top:264.85px;width:18.12px;height:16.65px;background:#1c1c1c;"></div>
<div class="abs" style="left:191.70px;top:264.85px;width:18.12px;height:16.65px;background:#1c1c1c;"></div>
<div class="abs" style="left:210.82px;top:264.85px;width:18.12px;height:16.65px;background:#1c1c1c;"></div>
<div class="abs" style="left:229.94px;top:264.85px;width:18.12px;height:16.65px;background:#1c1c1c;"></div>
<div class="abs" style="left:0.50px;top:282.50px;width:18.12px;height:16.65px;background:#1c1c1c;"></div>
<div class="abs" style="left:19.62px;top:282.50px;width:18.12px;height:16.65px;background:#1c1c1c;"></div>
<div class="abs" style="left:38.74px;top:282.50px;width:18.12px;height:16.65px;background:#1c1c1c;"></div>
<div class="abs" style="left:57.86px;top:282.50px;width:18.12px;height:16.65px;background:#1c1c1c;"></div>
<div class="abs" style="left:76.98px;top:282.50px;width:18.12px;height:16.65px;background:#1c1c1c;"></div>
<div class="abs" style="left:96.10px;top:282.50px;width:18.12px;height:16.65px;background:#1c1c1c;"></div>
<div class="abs" style="left:115.22px;top:282.50px;width:18.12px;height:16.65px;background:#1c1c1c;"></div>
<div class="abs" style="left:134.34px;top:282.50px;width:18.12px;height:16.65px;background:#1c1c1c;"></div>
<div class="abs" style="left:153.46px;top:282.50px;width:18.12px;height:16.65px;background:#1c1c1c;"></div>
<div class="abs" style="left:172.58px;top:282.50px;width:18.12px;height:16.65px;background:#1c1c1c;"></div>
<div class="abs" style="left:173.00px;top:295.75px;width:18.00px;height:3.40px;background:#3a7d9a;"></div>
<div class="abs" style="left:191.70px;top:282.50px;width:18.12px;height:16.65px;background:#1c1c1c;"></div>
<div class="abs" style="left:210.82px;top:282.50px;width:18.12px;height:16.65px;background:#1c1c1c;"></div>
<div class="abs" style="left:229.94px;top:282.50px;width:18.12px;height:16.65px;background:#1c1c1c;"></div>
<div class="abs" style="left:0.50px;top:300.15px;width:18.12px;height:16.65px;background:#1c1c1c;"></div>
<div class="abs" style="left:19.62px;top:300.15px;width:18.12px;height:16.65px;background:#1c1c1c;"></div>
<div class="abs" style="left:38.74px;top:300.15px;width:18.12px;height:16.65px;background:#1c1c1c;"></div>
<div class="abs" style="left:57.86px;top:300.15px;width:18.12px;height:16.65px;background:#1c1c1c;"></div>
<div class="abs" style="left:76.98px;top:300.15px;width:18.12px;height:16.65px;background:#1c1c1c;"></div>
<div class="abs" style="left:96.10px;top:300.15px;width:18.12px;height:16.65px;background:#1c1c1c;"></div>
<div class="abs" style="left:115.22px;top:300.15px;width:18.12px;height:16.65px;background:#1c1c1c;"></div>
<div class="abs" style="left:134.34px;top:300.15px;width:18.12px;height:16.65px;background:#1c1c1c;"></div>
<div class="abs" style="left:153.46px;top:300.15px;width:18.12px;height:16.65px;background:#1c1c1c;"></div>
<div class="abs" style="left:172.58px;top:300.15px;width:18.12px;height:16.65px;background:#1c1c1c;"></div>
<div class="abs" style="left:191.70px;top:300.15px;width:18.12px;height:16.65px;background:#1c1c1c;"></div>
<div class="abs" style="left:192.00px;top:310.90px;width:18.00px;height:5.90px;background:#3a7d9a;"></div>
<div class="abs" style="left:210.82px;top:300.15px;width:18.12px;height:16.65px;background:#1c1c1c;"></div>
<div class="abs" style="left:229.94px;top:300.15px;width:18.12px;height:16.65px;background:#1c1c1c;"></div>
<div class="abs" style="left:0.50px;top:317.80px;width:18.12px;height:16.65px;background:#1c1c1c;"></div>
<div class="abs" style="left:19.62px;top:317.80px;width:18.12px;height:16.65px;background:#1c1c1c;"></div>
<div class="abs" style="left:38.74px;top:317.80px;width:18.12px;height:16.65px;background:#1c1c1c;"></div>
<div class="abs" style="left:57.86px;top:317.80px;width:18.12px;height:16.65px;background:#1c1c1c;"></div>
<div class="abs" style="left:76.98px;top:317.80px;width:18.12px;height:16.65px;background:#1c1c1c;"></div>
<div class="abs" style="left:96.10px;top:317.80px;width:18.12px;height:16.65px;background:#1c1c1c;"></div>
<div class="abs" style="left:115.22px;top:317.80px;width:18.12px;height:16.65px;background:#1c1c1c;"></div>
<div class="abs" style="left:134.34px;top:317.80px;width:18.12px;height:16.65px;background:#1c1c1c;"></div>
<div class="abs" style="left:153.46px;top:317.80px;width:18.12px;height:16.65px;background:#1c1c1c;"></div>
<div class="abs" style="left:172.58px;top:317.80px;width:18.12px;height:16.65px;background:#1c1c1c;"></div>
<div class="abs" style="left:191.70px;top:317.80px;width:18.12px;height:16.65px;background:#1c1c1c;"></div>
<div class="abs" style="left:210.82px;top:317.80px;width:18.12px;height:16.65px;background:#1c1c1c;"></div>
<div class="abs" style="left:229.94px;top:317.80px;width:18.12px;height:16.65px;background:#1c1c1c;"></div>
<div class="abs" style="left:0.50px;top:335.45px;width:18.12px;height:16.65px;background:#1c1c1c;"></div>
<div class="abs" style="left:19.62px;top:335.45px;width:18.12px;height:16.65px;background:#1c1c1c;"></div>
<div class="abs" style="left:38.74px;top:335.45px;width:18.12px;height:16.65px;background:#1c1c1c;"></div>
<div class="abs" style="left:57.86px;top:335.45px;width:18.12px;height:16.65px;background:#1c1c1c;"></div>
<div class="abs" style="left:76.98px;top:335.45px;width:18.12px;height:16.65px;background:#1c1c1c;"></div>
<div class="abs" style="left:96.10px;top:335.45px;width:18.12px;height:16.65px;background:#1c1c1c;"></div>
<div class="abs" style="left:115.22px;top:335.45px;width:18.12px;height:16.65px;background:#1c1c1c;"></div>
<div class="abs" style="left:134.34px;top:335.45px;width:18.12px;height:16.65px;background:#1c1c1c;"></div>
<div class="abs" style="left:153.46px;top:335.45px;width:18.12px;height:16.65px;background:#1c1c1c;"></div>
<div class="abs" style="left:172.58px;top:335.45px;width:18.12px;height:16.65px;background:#1c1c1c;"></div>
<div class="abs" style="left:191.70px;top:335.45px;width:18.12px;height:16.65px;background:#1c1c1c;"></div>
<div class="abs" style="left:210.82px;top:335.45px;width:18.12px;height:16.65px;background:#1c1c1c;"></div>
<div class="abs" style="left:229.94px;top:335.45px;width:18.12px;height:16.65px;background:#1c1c1c;"></div>
<div class="abs" style="left:0.50px;top:353.10px;width:18.12px;height:16.65px;background:#1c1c1c;"></div>
<div class="abs" style="left:19.62px;top:353.10px;width:18.12px;height:16.65px;background:#1c1c1c;"></div>
<div class="abs" style="left:38.74px;top:353.10px;width:18.12px;height:16.65px;background:#1c1c1c;"></div>
<div class="abs" style="left:57.86px;top:353.10px;width:18.12px;height:16.65px;background:#1c1c1c;"></div>
<div class="abs" style="left:76.98px;top:353.10px;width:18.12px;height:16.65px;background:#1c1c1c;"></div>
<div class="abs" style="left:96.10px;top:353.10px;width:18.12px;height:16.65px;background:#1c1c1c;"></div>
<div class="abs" style="left:115.22px;top:353.10px;width:18.12px;height:16.65px;background:#1c1c1c;"></div>
<div class="abs" style="left:134.34px;top:353.10px;width:18.12px;height:16.65px;background:#1c1c1c;"></div>
<div class="abs" style="left:153.46px;top:353.10px;width:18.12px;height:16.65px;background:#1c1c1c;"></div>
<div class="abs" style="left:172.58px;top:353.10px;width:18.12px;height:16.65px;background:#1c1c1c;"></div>
<div class="abs" style="left:191.70px;top:353.10px;width:18.12px;height:16.65px;background:#1c1c1c;"></div>
<div class="abs" style="left:210.82px;top:353.10px;width:18.12px;height:16.65px;background:#1c1c1c;"></div>
<div class="abs" style="left:229.94px;top:353.10px;width:18.12px;height:16.65px;background:#1c1c1c;"></div>
<div class="t" style="left:0.00px;width:19.12px;text-align:center;top:146.98px;font-size:7.1px;letter-spacing:-0.25px;text-indent:-0.25px;color:#f2f2f2;text-shadow:0 0 1px #000;">AA</div>
<div class="t" style="left:19.12px;width:19.12px;text-align:center;top:146.98px;font-size:7.1px;letter-spacing:-0.25px;text-indent:-0.25px;color:#4b4b4b;">AKs</div>
<div class="t" style="left:38.24px;width:19.12px;text-align:center;top:146.98px;font-size:7.1px;letter-spacing:-0.25px;text-indent:-0.25px;color:#f2f2f2;">AQs</div>
<div class="t" style="left:57.36px;width:19.12px;text-align:center;top:146.98px;font-size:7.1px;letter-spacing:-0.25px;text-indent:-0.25px;color:#f2f2f2;">AJs</div>
<div class="t" style="left:76.48px;width:19.12px;text-align:center;top:146.98px;font-size:7.1px;letter-spacing:-0.25px;text-indent:-0.25px;color:#f2f2f2;text-shadow:0 0 1px #000;">ATs</div>
<div class="t" style="left:95.60px;width:19.12px;text-align:center;top:146.98px;font-size:7.1px;letter-spacing:-0.25px;text-indent:-0.25px;color:#4b4b4b;">A9s</div>
<div class="t" style="left:114.72px;width:19.12px;text-align:center;top:146.98px;font-size:7.1px;letter-spacing:-0.25px;text-indent:-0.25px;color:#f2f2f2;text-shadow:0 0 1px #000;">A8s</div>
<div class="t" style="left:133.84px;width:19.12px;text-align:center;top:146.98px;font-size:7.1px;letter-spacing:-0.25px;text-indent:-0.25px;color:#4b4b4b;">A7s</div>
<div class="t" style="left:152.96px;width:19.12px;text-align:center;top:146.98px;font-size:7.1px;letter-spacing:-0.25px;text-indent:-0.25px;color:#4b4b4b;">A6s</div>
<div class="t" style="left:172.08px;width:19.12px;text-align:center;top:146.98px;font-size:7.1px;letter-spacing:-0.25px;text-indent:-0.25px;color:#f2f2f2;text-shadow:0 0 1px #000;">A5s</div>
<div class="t" style="left:191.20px;width:19.12px;text-align:center;top:146.98px;font-size:7.1px;letter-spacing:-0.25px;text-indent:-0.25px;color:#f2f2f2;text-shadow:0 0 1px #000;">A4s</div>
<div class="t" style="left:210.32px;width:19.12px;text-align:center;top:146.98px;font-size:7.1px;letter-spacing:-0.25px;text-indent:-0.25px;color:#f2f2f2;text-shadow:0 0 1px #000;">A3s</div>
<div class="t" style="left:229.44px;width:19.12px;text-align:center;top:146.98px;font-size:7.1px;letter-spacing:-0.25px;text-indent:-0.25px;color:#f2f2f2;text-shadow:0 0 1px #000;">A2s</div>
<div class="t" style="left:0.00px;width:19.12px;text-align:center;top:164.63px;font-size:7.1px;letter-spacing:-0.25px;text-indent:-0.25px;color:#4b4b4b;">AKo</div>
<div class="t" style="left:19.12px;width:19.12px;text-align:center;top:164.63px;font-size:7.1px;letter-spacing:-0.25px;text-indent:-0.25px;color:#4b4b4b;">KK</div>
<div class="t" style="left:38.24px;width:19.12px;text-align:center;top:164.63px;font-size:7.1px;letter-spacing:-0.25px;text-indent:-0.25px;color:#f2f2f2;">KQs</div>
<div class="t" style="left:57.36px;width:19.12px;text-align:center;top:164.63px;font-size:7.1px;letter-spacing:-0.25px;text-indent:-0.25px;color:#f2f2f2;text-shadow:0 0 1px #000;">KJs</div>
<div class="t" style="left:76.48px;width:19.12px;text-align:center;top:164.63px;font-size:7.1px;letter-spacing:-0.25px;text-indent:-0.25px;color:#f2f2f2;">KTs</div>
<div class="t" style="left:95.60px;width:19.12px;text-align:center;top:164.63px;font-size:7.1px;letter-spacing:-0.25px;text-indent:-0.25px;color:#f2f2f2;text-shadow:0 0 1px #000;">K9s</div>
<div class="t" style="left:114.72px;width:19.12px;text-align:center;top:164.63px;font-size:7.1px;letter-spacing:-0.25px;text-indent:-0.25px;color:#4b4b4b;">K8s</div>
<div class="t" style="left:133.84px;width:19.12px;text-align:center;top:164.63px;font-size:7.1px;letter-spacing:-0.25px;text-indent:-0.25px;color:#f2f2f2;text-shadow:0 0 1px #000;">K7s</div>
<div class="t" style="left:152.96px;width:19.12px;text-align:center;top:164.63px;font-size:7.1px;letter-spacing:-0.25px;text-indent:-0.25px;color:#f2f2f2;text-shadow:0 0 1px #000;">K6s</div>
<div class="t" style="left:172.08px;width:19.12px;text-align:center;top:164.63px;font-size:7.1px;letter-spacing:-0.25px;text-indent:-0.25px;color:#f2f2f2;text-shadow:0 0 1px #000;">K5s</div>
<div class="t" style="left:191.20px;width:19.12px;text-align:center;top:164.63px;font-size:7.1px;letter-spacing:-0.25px;text-indent:-0.25px;color:#4b4b4b;">K4s</div>
<div class="t" style="left:210.32px;width:19.12px;text-align:center;top:164.63px;font-size:7.1px;letter-spacing:-0.25px;text-indent:-0.25px;color:#4b4b4b;">K3s</div>
<div class="t" style="left:229.44px;width:19.12px;text-align:center;top:164.63px;font-size:7.1px;letter-spacing:-0.25px;text-indent:-0.25px;color:#4b4b4b;">K2s</div>
<div class="t" style="left:0.00px;width:19.12px;text-align:center;top:182.28px;font-size:7.1px;letter-spacing:-0.25px;text-indent:-0.25px;color:#f2f2f2;">AQo</div>
<div class="t" style="left:19.12px;width:19.12px;text-align:center;top:182.28px;font-size:7.1px;letter-spacing:-0.25px;text-indent:-0.25px;color:#4b4b4b;">KQo</div>
<div class="t" style="left:38.24px;width:19.12px;text-align:center;top:182.28px;font-size:7.1px;letter-spacing:-0.25px;text-indent:-0.25px;color:#4b4b4b;">QQ</div>
<div class="t" style="left:57.36px;width:19.12px;text-align:center;top:182.28px;font-size:7.1px;letter-spacing:-0.25px;text-indent:-0.25px;color:#f2f2f2;text-shadow:0 0 1px #000;">QJs</div>
<div class="t" style="left:76.48px;width:19.12px;text-align:center;top:182.28px;font-size:7.1px;letter-spacing:-0.25px;text-indent:-0.25px;color:#f2f2f2;text-shadow:0 0 1px #000;">QTs</div>
<div class="t" style="left:95.60px;width:19.12px;text-align:center;top:182.28px;font-size:7.1px;letter-spacing:-0.25px;text-indent:-0.25px;color:#4b4b4b;">Q9s</div>
<div class="t" style="left:114.72px;width:19.12px;text-align:center;top:182.28px;font-size:7.1px;letter-spacing:-0.25px;text-indent:-0.25px;color:#4b4b4b;">Q8s</div>
<div class="t" style="left:133.84px;width:19.12px;text-align:center;top:182.28px;font-size:7.1px;letter-spacing:-0.25px;text-indent:-0.25px;color:#4b4b4b;">Q7s</div>
<div class="t" style="left:152.96px;width:19.12px;text-align:center;top:182.28px;font-size:7.1px;letter-spacing:-0.25px;text-indent:-0.25px;color:#4b4b4b;">Q6s</div>
<div class="t" style="left:172.08px;width:19.12px;text-align:center;top:182.28px;font-size:7.1px;letter-spacing:-0.25px;text-indent:-0.25px;color:#4b4b4b;">Q5s</div>
<div class="t" style="left:191.20px;width:19.12px;text-align:center;top:182.28px;font-size:7.1px;letter-spacing:-0.25px;text-indent:-0.25px;color:#4b4b4b;">Q4s</div>
<div class="t" style="left:210.32px;width:19.12px;text-align:center;top:182.28px;font-size:7.1px;letter-spacing:-0.25px;text-indent:-0.25px;color:#4b4b4b;">Q3s</div>
<div class="t" style="left:229.44px;width:19.12px;text-align:center;top:182.28px;font-size:7.1px;letter-spacing:-0.25px;text-indent:-0.25px;color:#4b4b4b;">Q2s</div>
<div class="t" style="left:0.00px;width:19.12px;text-align:center;top:199.93px;font-size:7.1px;letter-spacing:-0.25px;text-indent:-0.25px;color:#4b4b4b;">AJo</div>
<div class="t" style="left:19.12px;width:19.12px;text-align:center;top:199.93px;font-size:7.1px;letter-spacing:-0.25px;text-indent:-0.25px;color:#4b4b4b;">KJo</div>
<div class="t" style="left:38.24px;width:19.12px;text-align:center;top:199.93px;font-size:7.1px;letter-spacing:-0.25px;text-indent:-0.25px;color:#4b4b4b;">QJo</div>
<div class="t" style="left:57.36px;width:19.12px;text-align:center;top:199.93px;font-size:7.1px;letter-spacing:-0.25px;text-indent:-0.25px;color:#f2f2f2;">JJ</div>
<div class="t" style="left:76.48px;width:19.12px;text-align:center;top:199.93px;font-size:7.1px;letter-spacing:-0.25px;text-indent:-0.25px;color:#f2f2f2;">JTs</div>
<div class="t" style="left:95.60px;width:19.12px;text-align:center;top:199.93px;font-size:7.1px;letter-spacing:-0.25px;text-indent:-0.25px;color:#4b4b4b;">J9s</div>
<div class="t" style="left:114.72px;width:19.12px;text-align:center;top:199.93px;font-size:7.1px;letter-spacing:-0.25px;text-indent:-0.25px;color:#4b4b4b;">J8s</div>
<div class="t" style="left:133.84px;width:19.12px;text-align:center;top:199.93px;font-size:7.1px;letter-spacing:-0.25px;text-indent:-0.25px;color:#4b4b4b;">J7s</div>
<div class="t" style="left:152.96px;width:19.12px;text-align:center;top:199.93px;font-size:7.1px;letter-spacing:-0.25px;text-indent:-0.25px;color:#4b4b4b;">J6s</div>
<div class="t" style="left:172.08px;width:19.12px;text-align:center;top:199.93px;font-size:7.1px;letter-spacing:-0.25px;text-indent:-0.25px;color:#4b4b4b;">J5s</div>
<div class="t" style="left:191.20px;width:19.12px;text-align:center;top:199.93px;font-size:7.1px;letter-spacing:-0.25px;text-indent:-0.25px;color:#4b4b4b;">J4s</div>
<div class="t" style="left:210.32px;width:19.12px;text-align:center;top:199.93px;font-size:7.1px;letter-spacing:-0.25px;text-indent:-0.25px;color:#4b4b4b;">J3s</div>
<div class="t" style="left:229.44px;width:19.12px;text-align:center;top:199.93px;font-size:7.1px;letter-spacing:-0.25px;text-indent:-0.25px;color:#4b4b4b;">J2s</div>
<div class="t" style="left:0.00px;width:19.12px;text-align:center;top:217.58px;font-size:7.1px;letter-spacing:-0.25px;text-indent:-0.25px;color:#4b4b4b;">ATo</div>
<div class="t" style="left:19.12px;width:19.12px;text-align:center;top:217.58px;font-size:7.1px;letter-spacing:-0.25px;text-indent:-0.25px;color:#4b4b4b;">KTo</div>
<div class="t" style="left:38.24px;width:19.12px;text-align:center;top:217.58px;font-size:7.1px;letter-spacing:-0.25px;text-indent:-0.25px;color:#4b4b4b;">QTo</div>
<div class="t" style="left:57.36px;width:19.12px;text-align:center;top:217.58px;font-size:7.1px;letter-spacing:-0.25px;text-indent:-0.25px;color:#4b4b4b;">JTo</div>
<div class="t" style="left:76.48px;width:19.12px;text-align:center;top:217.58px;font-size:7.1px;letter-spacing:-0.25px;text-indent:-0.25px;color:#f2f2f2;text-shadow:0 0 1px #000;">TT</div>
<div class="t" style="left:95.60px;width:19.12px;text-align:center;top:217.58px;font-size:7.1px;letter-spacing:-0.25px;text-indent:-0.25px;color:#f2f2f2;">T9s</div>
<div class="t" style="left:114.72px;width:19.12px;text-align:center;top:217.58px;font-size:7.1px;letter-spacing:-0.25px;text-indent:-0.25px;color:#f2f2f2;text-shadow:0 0 1px #000;">T8s</div>
<div class="t" style="left:133.84px;width:19.12px;text-align:center;top:217.58px;font-size:7.1px;letter-spacing:-0.25px;text-indent:-0.25px;color:#4b4b4b;">T7s</div>
<div class="t" style="left:152.96px;width:19.12px;text-align:center;top:217.58px;font-size:7.1px;letter-spacing:-0.25px;text-indent:-0.25px;color:#4b4b4b;">T6s</div>
<div class="t" style="left:172.08px;width:19.12px;text-align:center;top:217.58px;font-size:7.1px;letter-spacing:-0.25px;text-indent:-0.25px;color:#4b4b4b;">T5s</div>
<div class="t" style="left:191.20px;width:19.12px;text-align:center;top:217.58px;font-size:7.1px;letter-spacing:-0.25px;text-indent:-0.25px;color:#4b4b4b;">T4s</div>
<div class="t" style="left:210.32px;width:19.12px;text-align:center;top:217.58px;font-size:7.1px;letter-spacing:-0.25px;text-indent:-0.25px;color:#4b4b4b;">T3s</div>
<div class="t" style="left:229.44px;width:19.12px;text-align:center;top:217.58px;font-size:7.1px;letter-spacing:-0.25px;text-indent:-0.25px;color:#4b4b4b;">T2s</div>
<div class="t" style="left:0.00px;width:19.12px;text-align:center;top:235.23px;font-size:7.1px;letter-spacing:-0.25px;text-indent:-0.25px;color:#4b4b4b;">A9o</div>
<div class="t" style="left:19.12px;width:19.12px;text-align:center;top:235.23px;font-size:7.1px;letter-spacing:-0.25px;text-indent:-0.25px;color:#4b4b4b;">K9o</div>
<div class="t" style="left:38.24px;width:19.12px;text-align:center;top:235.23px;font-size:7.1px;letter-spacing:-0.25px;text-indent:-0.25px;color:#4b4b4b;">Q9o</div>
<div class="t" style="left:57.36px;width:19.12px;text-align:center;top:235.23px;font-size:7.1px;letter-spacing:-0.25px;text-indent:-0.25px;color:#4b4b4b;">J9o</div>
<div class="t" style="left:76.48px;width:19.12px;text-align:center;top:235.23px;font-size:7.1px;letter-spacing:-0.25px;text-indent:-0.25px;color:#4b4b4b;">T9o</div>
<div class="t" style="left:95.60px;width:19.12px;text-align:center;top:235.23px;font-size:7.1px;letter-spacing:-0.25px;text-indent:-0.25px;color:#f2f2f2;">99</div>
<div class="t" style="left:114.72px;width:19.12px;text-align:center;top:235.23px;font-size:7.1px;letter-spacing:-0.25px;text-indent:-0.25px;color:#f2f2f2;">98s</div>
<div class="t" style="left:133.84px;width:19.12px;text-align:center;top:235.23px;font-size:7.1px;letter-spacing:-0.25px;text-indent:-0.25px;color:#4b4b4b;">97s</div>
<div class="t" style="left:152.96px;width:19.12px;text-align:center;top:235.23px;font-size:7.1px;letter-spacing:-0.25px;text-indent:-0.25px;color:#4b4b4b;">96s</div>
<div class="t" style="left:172.08px;width:19.12px;text-align:center;top:235.23px;font-size:7.1px;letter-spacing:-0.25px;text-indent:-0.25px;color:#4b4b4b;">95s</div>
<div class="t" style="left:191.20px;width:19.12px;text-align:center;top:235.23px;font-size:7.1px;letter-spacing:-0.25px;text-indent:-0.25px;color:#4b4b4b;">94s</div>
<div class="t" style="left:210.32px;width:19.12px;text-align:center;top:235.23px;font-size:7.1px;letter-spacing:-0.25px;text-indent:-0.25px;color:#4b4b4b;">93s</div>
<div class="t" style="left:229.44px;width:19.12px;text-align:center;top:235.23px;font-size:7.1px;letter-spacing:-0.25px;text-indent:-0.25px;color:#4b4b4b;">92s</div>
<div class="t" style="left:0.00px;width:19.12px;text-align:center;top:252.88px;font-size:7.1px;letter-spacing:-0.25px;text-indent:-0.25px;color:#4b4b4b;">A8o</div>
<div class="t" style="left:19.12px;width:19.12px;text-align:center;top:252.88px;font-size:7.1px;letter-spacing:-0.25px;text-indent:-0.25px;color:#4b4b4b;">K8o</div>
<div class="t" style="left:38.24px;width:19.12px;text-align:center;top:252.88px;font-size:7.1px;letter-spacing:-0.25px;text-indent:-0.25px;color:#4b4b4b;">Q8o</div>
<div class="t" style="left:57.36px;width:19.12px;text-align:center;top:252.88px;font-size:7.1px;letter-spacing:-0.25px;text-indent:-0.25px;color:#4b4b4b;">J8o</div>
<div class="t" style="left:76.48px;width:19.12px;text-align:center;top:252.88px;font-size:7.1px;letter-spacing:-0.25px;text-indent:-0.25px;color:#4b4b4b;">T8o</div>
<div class="t" style="left:95.60px;width:19.12px;text-align:center;top:252.88px;font-size:7.1px;letter-spacing:-0.25px;text-indent:-0.25px;color:#4b4b4b;">98o</div>
<div class="t" style="left:114.72px;width:19.12px;text-align:center;top:252.88px;font-size:7.1px;letter-spacing:-0.25px;text-indent:-0.25px;color:#f2f2f2;text-shadow:0 0 1px #000;">88</div>
<div class="t" style="left:133.84px;width:19.12px;text-align:center;top:252.88px;font-size:7.1px;letter-spacing:-0.25px;text-indent:-0.25px;color:#f2f2f2;text-shadow:0 0 1px #000;">87s</div>
<div class="t" style="left:152.96px;width:19.12px;text-align:center;top:252.88px;font-size:7.1px;letter-spacing:-0.25px;text-indent:-0.25px;color:#f2f2f2;text-shadow:0 0 1px #000;">86s</div>
<div class="t" style="left:172.08px;width:19.12px;text-align:center;top:252.88px;font-size:7.1px;letter-spacing:-0.25px;text-indent:-0.25px;color:#4b4b4b;">85s</div>
<div class="t" style="left:191.20px;width:19.12px;text-align:center;top:252.88px;font-size:7.1px;letter-spacing:-0.25px;text-indent:-0.25px;color:#4b4b4b;">84s</div>
<div class="t" style="left:210.32px;width:19.12px;text-align:center;top:252.88px;font-size:7.1px;letter-spacing:-0.25px;text-indent:-0.25px;color:#4b4b4b;">83s</div>
<div class="t" style="left:229.44px;width:19.12px;text-align:center;top:252.88px;font-size:7.1px;letter-spacing:-0.25px;text-indent:-0.25px;color:#4b4b4b;">82s</div>
<div class="t" style="left:0.00px;width:19.12px;text-align:center;top:270.53px;font-size:7.1px;letter-spacing:-0.25px;text-indent:-0.25px;color:#4b4b4b;">A7o</div>
<div class="t" style="left:19.12px;width:19.12px;text-align:center;top:270.53px;font-size:7.1px;letter-spacing:-0.25px;text-indent:-0.25px;color:#4b4b4b;">K7o</div>
<div class="t" style="left:38.24px;width:19.12px;text-align:center;top:270.53px;font-size:7.1px;letter-spacing:-0.25px;text-indent:-0.25px;color:#4b4b4b;">Q7o</div>
<div class="t" style="left:57.36px;width:19.12px;text-align:center;top:270.53px;font-size:7.1px;letter-spacing:-0.25px;text-indent:-0.25px;color:#4b4b4b;">J7o</div>
<div class="t" style="left:76.48px;width:19.12px;text-align:center;top:270.53px;font-size:7.1px;letter-spacing:-0.25px;text-indent:-0.25px;color:#4b4b4b;">T7o</div>
<div class="t" style="left:95.60px;width:19.12px;text-align:center;top:270.53px;font-size:7.1px;letter-spacing:-0.25px;text-indent:-0.25px;color:#4b4b4b;">97o</div>
<div class="t" style="left:114.72px;width:19.12px;text-align:center;top:270.53px;font-size:7.1px;letter-spacing:-0.25px;text-indent:-0.25px;color:#4b4b4b;">87o</div>
<div class="t" style="left:133.84px;width:19.12px;text-align:center;top:270.53px;font-size:7.1px;letter-spacing:-0.25px;text-indent:-0.25px;color:#f2f2f2;text-shadow:0 0 1px #000;">77</div>
<div class="t" style="left:152.96px;width:19.12px;text-align:center;top:270.53px;font-size:7.1px;letter-spacing:-0.25px;text-indent:-0.25px;color:#f2f2f2;">76s</div>
<div class="t" style="left:172.08px;width:19.12px;text-align:center;top:270.53px;font-size:7.1px;letter-spacing:-0.25px;text-indent:-0.25px;color:#4b4b4b;">75s</div>
<div class="t" style="left:191.20px;width:19.12px;text-align:center;top:270.53px;font-size:7.1px;letter-spacing:-0.25px;text-indent:-0.25px;color:#4b4b4b;">74s</div>
<div class="t" style="left:210.32px;width:19.12px;text-align:center;top:270.53px;font-size:7.1px;letter-spacing:-0.25px;text-indent:-0.25px;color:#4b4b4b;">73s</div>
<div class="t" style="left:229.44px;width:19.12px;text-align:center;top:270.53px;font-size:7.1px;letter-spacing:-0.25px;text-indent:-0.25px;color:#4b4b4b;">72s</div>
<div class="t" style="left:0.00px;width:19.12px;text-align:center;top:288.18px;font-size:7.1px;letter-spacing:-0.25px;text-indent:-0.25px;color:#4b4b4b;">A6o</div>
<div class="t" style="left:19.12px;width:19.12px;text-align:center;top:288.18px;font-size:7.1px;letter-spacing:-0.25px;text-indent:-0.25px;color:#4b4b4b;">K6o</div>
<div class="t" style="left:38.24px;width:19.12px;text-align:center;top:288.18px;font-size:7.1px;letter-spacing:-0.25px;text-indent:-0.25px;color:#4b4b4b;">Q6o</div>
<div class="t" style="left:57.36px;width:19.12px;text-align:center;top:288.18px;font-size:7.1px;letter-spacing:-0.25px;text-indent:-0.25px;color:#4b4b4b;">J6o</div>
<div class="t" style="left:76.48px;width:19.12px;text-align:center;top:288.18px;font-size:7.1px;letter-spacing:-0.25px;text-indent:-0.25px;color:#4b4b4b;">T6o</div>
<div class="t" style="left:95.60px;width:19.12px;text-align:center;top:288.18px;font-size:7.1px;letter-spacing:-0.25px;text-indent:-0.25px;color:#4b4b4b;">96o</div>
<div class="t" style="left:114.72px;width:19.12px;text-align:center;top:288.18px;font-size:7.1px;letter-spacing:-0.25px;text-indent:-0.25px;color:#4b4b4b;">86o</div>
<div class="t" style="left:133.84px;width:19.12px;text-align:center;top:288.18px;font-size:7.1px;letter-spacing:-0.25px;text-indent:-0.25px;color:#4b4b4b;">76o</div>
<div class="t" style="left:152.96px;width:19.12px;text-align:center;top:288.18px;font-size:7.1px;letter-spacing:-0.25px;text-indent:-0.25px;color:#4b4b4b;">66</div>
<div class="t" style="left:172.08px;width:19.12px;text-align:center;top:288.18px;font-size:7.1px;letter-spacing:-0.25px;text-indent:-0.25px;color:#f2f2f2;text-shadow:0 0 1px #000;">65s</div>
<div class="t" style="left:191.20px;width:19.12px;text-align:center;top:288.18px;font-size:7.1px;letter-spacing:-0.25px;text-indent:-0.25px;color:#4b4b4b;">64s</div>
<div class="t" style="left:210.32px;width:19.12px;text-align:center;top:288.18px;font-size:7.1px;letter-spacing:-0.25px;text-indent:-0.25px;color:#4b4b4b;">63s</div>
<div class="t" style="left:229.44px;width:19.12px;text-align:center;top:288.18px;font-size:7.1px;letter-spacing:-0.25px;text-indent:-0.25px;color:#4b4b4b;">62s</div>
<div class="t" style="left:0.00px;width:19.12px;text-align:center;top:305.83px;font-size:7.1px;letter-spacing:-0.25px;text-indent:-0.25px;color:#4b4b4b;">A5o</div>
<div class="t" style="left:19.12px;width:19.12px;text-align:center;top:305.83px;font-size:7.1px;letter-spacing:-0.25px;text-indent:-0.25px;color:#4b4b4b;">K5o</div>
<div class="t" style="left:38.24px;width:19.12px;text-align:center;top:305.83px;font-size:7.1px;letter-spacing:-0.25px;text-indent:-0.25px;color:#4b4b4b;">Q5o</div>
<div class="t" style="left:57.36px;width:19.12px;text-align:center;top:305.83px;font-size:7.1px;letter-spacing:-0.25px;text-indent:-0.25px;color:#4b4b4b;">J5o</div>
<div class="t" style="left:76.48px;width:19.12px;text-align:center;top:305.83px;font-size:7.1px;letter-spacing:-0.25px;text-indent:-0.25px;color:#4b4b4b;">T5o</div>
<div class="t" style="left:95.60px;width:19.12px;text-align:center;top:305.83px;font-size:7.1px;letter-spacing:-0.25px;text-indent:-0.25px;color:#4b4b4b;">95o</div>
<div class="t" style="left:114.72px;width:19.12px;text-align:center;top:305.83px;font-size:7.1px;letter-spacing:-0.25px;text-indent:-0.25px;color:#4b4b4b;">85o</div>
<div class="t" style="left:133.84px;width:19.12px;text-align:center;top:305.83px;font-size:7.1px;letter-spacing:-0.25px;text-indent:-0.25px;color:#4b4b4b;">75o</div>
<div class="t" style="left:152.96px;width:19.12px;text-align:center;top:305.83px;font-size:7.1px;letter-spacing:-0.25px;text-indent:-0.25px;color:#4b4b4b;">65o</div>
<div class="t" style="left:172.08px;width:19.12px;text-align:center;top:305.83px;font-size:7.1px;letter-spacing:-0.25px;text-indent:-0.25px;color:#4b4b4b;">55</div>
<div class="t" style="left:191.20px;width:19.12px;text-align:center;top:305.83px;font-size:7.1px;letter-spacing:-0.25px;text-indent:-0.25px;color:#f2f2f2;text-shadow:0 0 1px #000;">54s</div>
<div class="t" style="left:210.32px;width:19.12px;text-align:center;top:305.83px;font-size:7.1px;letter-spacing:-0.25px;text-indent:-0.25px;color:#4b4b4b;">53s</div>
<div class="t" style="left:229.44px;width:19.12px;text-align:center;top:305.83px;font-size:7.1px;letter-spacing:-0.25px;text-indent:-0.25px;color:#4b4b4b;">52s</div>
<div class="t" style="left:0.00px;width:19.12px;text-align:center;top:323.48px;font-size:7.1px;letter-spacing:-0.25px;text-indent:-0.25px;color:#4b4b4b;">A4o</div>
<div class="t" style="left:19.12px;width:19.12px;text-align:center;top:323.48px;font-size:7.1px;letter-spacing:-0.25px;text-indent:-0.25px;color:#4b4b4b;">K4o</div>
<div class="t" style="left:38.24px;width:19.12px;text-align:center;top:323.48px;font-size:7.1px;letter-spacing:-0.25px;text-indent:-0.25px;color:#4b4b4b;">Q4o</div>
<div class="t" style="left:57.36px;width:19.12px;text-align:center;top:323.48px;font-size:7.1px;letter-spacing:-0.25px;text-indent:-0.25px;color:#4b4b4b;">J4o</div>
<div class="t" style="left:76.48px;width:19.12px;text-align:center;top:323.48px;font-size:7.1px;letter-spacing:-0.25px;text-indent:-0.25px;color:#4b4b4b;">T4o</div>
<div class="t" style="left:95.60px;width:19.12px;text-align:center;top:323.48px;font-size:7.1px;letter-spacing:-0.25px;text-indent:-0.25px;color:#4b4b4b;">94o</div>
<div class="t" style="left:114.72px;width:19.12px;text-align:center;top:323.48px;font-size:7.1px;letter-spacing:-0.25px;text-indent:-0.25px;color:#4b4b4b;">84o</div>
<div class="t" style="left:133.84px;width:19.12px;text-align:center;top:323.48px;font-size:7.1px;letter-spacing:-0.25px;text-indent:-0.25px;color:#4b4b4b;">74o</div>
<div class="t" style="left:152.96px;width:19.12px;text-align:center;top:323.48px;font-size:7.1px;letter-spacing:-0.25px;text-indent:-0.25px;color:#4b4b4b;">64o</div>
<div class="t" style="left:172.08px;width:19.12px;text-align:center;top:323.48px;font-size:7.1px;letter-spacing:-0.25px;text-indent:-0.25px;color:#4b4b4b;">54o</div>
<div class="t" style="left:191.20px;width:19.12px;text-align:center;top:323.48px;font-size:7.1px;letter-spacing:-0.25px;text-indent:-0.25px;color:#4b4b4b;">44</div>
<div class="t" style="left:210.32px;width:19.12px;text-align:center;top:323.48px;font-size:7.1px;letter-spacing:-0.25px;text-indent:-0.25px;color:#4b4b4b;">43s</div>
<div class="t" style="left:229.44px;width:19.12px;text-align:center;top:323.48px;font-size:7.1px;letter-spacing:-0.25px;text-indent:-0.25px;color:#4b4b4b;">42s</div>
<div class="t" style="left:0.00px;width:19.12px;text-align:center;top:341.13px;font-size:7.1px;letter-spacing:-0.25px;text-indent:-0.25px;color:#4b4b4b;">A3o</div>
<div class="t" style="left:19.12px;width:19.12px;text-align:center;top:341.13px;font-size:7.1px;letter-spacing:-0.25px;text-indent:-0.25px;color:#4b4b4b;">K3o</div>
<div class="t" style="left:38.24px;width:19.12px;text-align:center;top:341.13px;font-size:7.1px;letter-spacing:-0.25px;text-indent:-0.25px;color:#4b4b4b;">Q3o</div>
<div class="t" style="left:57.36px;width:19.12px;text-align:center;top:341.13px;font-size:7.1px;letter-spacing:-0.25px;text-indent:-0.25px;color:#4b4b4b;">J3o</div>
<div class="t" style="left:76.48px;width:19.12px;text-align:center;top:341.13px;font-size:7.1px;letter-spacing:-0.25px;text-indent:-0.25px;color:#4b4b4b;">T3o</div>
<div class="t" style="left:95.60px;width:19.12px;text-align:center;top:341.13px;font-size:7.1px;letter-spacing:-0.25px;text-indent:-0.25px;color:#4b4b4b;">93o</div>
<div class="t" style="left:114.72px;width:19.12px;text-align:center;top:341.13px;font-size:7.1px;letter-spacing:-0.25px;text-indent:-0.25px;color:#4b4b4b;">83o</div>
<div class="t" style="left:133.84px;width:19.12px;text-align:center;top:341.13px;font-size:7.1px;letter-spacing:-0.25px;text-indent:-0.25px;color:#4b4b4b;">73o</div>
<div class="t" style="left:152.96px;width:19.12px;text-align:center;top:341.13px;font-size:7.1px;letter-spacing:-0.25px;text-indent:-0.25px;color:#4b4b4b;">63o</div>
<div class="t" style="left:172.08px;width:19.12px;text-align:center;top:341.13px;font-size:7.1px;letter-spacing:-0.25px;text-indent:-0.25px;color:#4b4b4b;">53o</div>
<div class="t" style="left:191.20px;width:19.12px;text-align:center;top:341.13px;font-size:7.1px;letter-spacing:-0.25px;text-indent:-0.25px;color:#4b4b4b;">43o</div>
<div class="t" style="left:210.32px;width:19.12px;text-align:center;top:341.13px;font-size:7.1px;letter-spacing:-0.25px;text-indent:-0.25px;color:#4b4b4b;">33</div>
<div class="t" style="left:229.44px;width:19.12px;text-align:center;top:341.13px;font-size:7.1px;letter-spacing:-0.25px;text-indent:-0.25px;color:#4b4b4b;">32s</div>
<div class="t" style="left:0.00px;width:19.12px;text-align:center;top:358.78px;font-size:7.1px;letter-spacing:-0.25px;text-indent:-0.25px;color:#4b4b4b;">A2o</div>
<div class="t" style="left:19.12px;width:19.12px;text-align:center;top:358.78px;font-size:7.1px;letter-spacing:-0.25px;text-indent:-0.25px;color:#4b4b4b;">K2o</div>
<div class="t" style="left:38.24px;width:19.12px;text-align:center;top:358.78px;font-size:7.1px;letter-spacing:-0.25px;text-indent:-0.25px;color:#4b4b4b;">Q2o</div>
<div class="t" style="left:57.36px;width:19.12px;text-align:center;top:358.78px;font-size:7.1px;letter-spacing:-0.25px;text-indent:-0.25px;color:#4b4b4b;">J2o</div>
<div class="t" style="left:76.48px;width:19.12px;text-align:center;top:358.78px;font-size:7.1px;letter-spacing:-0.25px;text-indent:-0.25px;color:#4b4b4b;">T2o</div>
<div class="t" style="left:95.60px;width:19.12px;text-align:center;top:358.78px;font-size:7.1px;letter-spacing:-0.25px;text-indent:-0.25px;color:#4b4b4b;">92o</div>
<div class="t" style="left:114.72px;width:19.12px;text-align:center;top:358.78px;font-size:7.1px;letter-spacing:-0.25px;text-indent:-0.25px;color:#4b4b4b;">82o</div>
<div class="t" style="left:133.84px;width:19.12px;text-align:center;top:358.78px;font-size:7.1px;letter-spacing:-0.25px;text-indent:-0.25px;color:#4b4b4b;">72o</div>
<div class="t" style="left:152.96px;width:19.12px;text-align:center;top:358.78px;font-size:7.1px;letter-spacing:-0.25px;text-indent:-0.25px;color:#4b4b4b;">62o</div>
<div class="t" style="left:172.08px;width:19.12px;text-align:center;top:358.78px;font-size:7.1px;letter-spacing:-0.25px;text-indent:-0.25px;color:#4b4b4b;">52o</div>
<div class="t" style="left:191.20px;width:19.12px;text-align:center;top:358.78px;font-size:7.1px;letter-spacing:-0.25px;text-indent:-0.25px;color:#4b4b4b;">42o</div>
<div class="t" style="left:210.32px;width:19.12px;text-align:center;top:358.78px;font-size:7.1px;letter-spacing:-0.25px;text-indent:-0.25px;color:#4b4b4b;">32o</div>
<div class="t" style="left:229.44px;width:19.12px;text-align:center;top:358.78px;font-size:7.1px;letter-spacing:-0.25px;text-indent:-0.25px;color:#4b4b4b;">22</div>
<div class="abs" style="left:383.00px;top:140.80px;width:248.95px;height:229.45px;background:#131313;"></div>
<div class="abs" style="left:383.50px;top:141.30px;width:18.15px;height:16.65px;background:#1c1c1c;"></div>
<div class="abs" style="left:384.00px;top:147.55px;width:18.00px;height:10.40px;background:#84d24a;"></div>
<div class="abs" style="left:402.65px;top:141.30px;width:18.15px;height:16.65px;background:#1c1c1c;"></div>
<div class="abs" style="left:403.00px;top:145.25px;width:18.00px;height:12.70px;background:#e2e15a;"></div>
<div class="abs" style="left:421.80px;top:141.30px;width:18.15px;height:16.65px;background:#1c1c1c;"></div>
<div class="abs" style="left:422.00px;top:155.55px;width:18.00px;height:2.40px;background:#e8c440;"></div>
<div class="abs" style="left:440.95px;top:141.30px;width:18.15px;height:16.65px;background:#1c1c1c;"></div>
<div class="abs" style="left:460.10px;top:141.30px;width:18.15px;height:16.65px;background:#1c1c1c;"></div>
<div class="abs" style="left:479.25px;top:141.30px;width:18.15px;height:16.65px;background:#1c1c1c;"></div>
<div class="abs" style="left:498.40px;top:141.30px;width:18.15px;height:16.65px;background:#1c1c1c;"></div>
<div class="abs" style="left:517.55px;top:141.30px;width:18.15px;height:16.65px;background:#1c1c1c;"></div>
<div class="abs" style="left:536.70px;top:141.30px;width:18.15px;height:16.65px;background:#1c1c1c;"></div>
<div class="abs" style="left:555.85px;top:141.30px;width:18.15px;height:16.65px;background:#1c1c1c;"></div>
<div class="abs" style="left:575.00px;top:141.30px;width:18.15px;height:16.65px;background:#1c1c1c;"></div>
<div class="abs" style="left:594.15px;top:141.30px;width:18.15px;height:16.65px;background:#1c1c1c;"></div>
<div class="abs" style="left:613.30px;top:141.30px;width:18.15px;height:16.65px;background:#1c1c1c;"></div>
<div class="abs" style="left:383.50px;top:158.95px;width:18.15px;height:16.65px;background:#1c1c1c;"></div>
<div class="abs" style="left:384.00px;top:171.10px;width:18.00px;height:4.50px;background:#ece258;"></div>
<div class="abs" style="left:402.65px;top:158.95px;width:18.15px;height:16.65px;background:#1c1c1c;"></div>
<div class="abs" style="left:403.00px;top:165.60px;width:18.00px;height:10.00px;background:#90d84a;"></div>
<div class="abs" style="left:421.80px;top:158.95px;width:18.15px;height:16.65px;background:#1c1c1c;"></div>
<div class="abs" style="left:440.95px;top:158.95px;width:18.15px;height:16.65px;background:#1c1c1c;"></div>
<div class="abs" style="left:460.10px;top:158.95px;width:18.15px;height:16.65px;background:#1c1c1c;"></div>
<div class="abs" style="left:479.25px;top:158.95px;width:18.15px;height:16.65px;background:#1c1c1c;"></div>
<div class="abs" style="left:498.40px;top:158.95px;width:18.15px;height:16.65px;background:#1c1c1c;"></div>
<div class="abs" style="left:517.55px;top:158.95px;width:18.15px;height:16.65px;background:#1c1c1c;"></div>
<div class="abs" style="left:536.70px;top:158.95px;width:18.15px;height:16.65px;background:#1c1c1c;"></div>
<div class="abs" style="left:555.85px;top:158.95px;width:18.15px;height:16.65px;background:#1c1c1c;"></div>
<div class="abs" style="left:575.00px;top:158.95px;width:18.15px;height:16.65px;background:#1c1c1c;"></div>
<div class="abs" style="left:594.15px;top:158.95px;width:18.15px;height:16.65px;background:#1c1c1c;"></div>
<div class="abs" style="left:613.30px;top:158.95px;width:18.15px;height:16.65px;background:#1c1c1c;"></div>
<div class="abs" style="left:383.50px;top:176.60px;width:18.15px;height:16.65px;background:#1c1c1c;"></div>
<div class="abs" style="left:384.00px;top:191.75px;width:18.00px;height:1.50px;background:#d8c040;"></div>
<div class="abs" style="left:402.65px;top:176.60px;width:18.15px;height:16.65px;background:#1c1c1c;"></div>
<div class="abs" style="left:403.00px;top:188.95px;width:18.00px;height:4.30px;background:#eeb444;"></div>
<div class="abs" style="left:421.80px;top:176.60px;width:18.15px;height:16.65px;background:#a6e04a;"></div>
<div class="abs" style="left:440.95px;top:176.60px;width:18.15px;height:16.65px;background:#1c1c1c;"></div>
<div class="abs" style="left:460.10px;top:176.60px;width:18.15px;height:16.65px;background:#1c1c1c;"></div>
<div class="abs" style="left:479.25px;top:176.60px;width:18.15px;height:16.65px;background:#1c1c1c;"></div>
<div class="abs" style="left:479.00px;top:186.65px;width:18.00px;height:6.60px;background:#efb446;"></div>
<div class="abs" style="left:498.40px;top:176.60px;width:18.15px;height:16.65px;background:#1c1c1c;"></div>
<div class="abs" style="left:517.55px;top:176.60px;width:18.15px;height:16.65px;background:#1c1c1c;"></div>
<div class="abs" style="left:536.70px;top:176.60px;width:18.15px;height:16.65px;background:#1c1c1c;"></div>
<div class="abs" style="left:555.85px;top:176.60px;width:18.15px;height:16.65px;background:#1c1c1c;"></div>
<div class="abs" style="left:575.00px;top:176.60px;width:18.15px;height:16.65px;background:#1c1c1c;"></div>
<div class="abs" style="left:594.15px;top:176.60px;width:18.15px;height:16.65px;background:#1c1c1c;"></div>
<div class="abs" style="left:613.30px;top:176.60px;width:18.15px;height:16.65px;background:#1c1c1c;"></div>
<div class="abs" style="left:383.50px;top:194.25px;width:18.15px;height:16.65px;background:#1c1c1c;"></div>
<div class="abs" style="left:384.00px;top:203.90px;width:18.00px;height:7.00px;background:#a2da48;"></div>
<div class="abs" style="left:402.65px;top:194.25px;width:18.15px;height:16.65px;background:#1c1c1c;"></div>
<div class="abs" style="left:403.00px;top:209.40px;width:18.00px;height:1.50px;background:#c8e050;"></div>
<div class="abs" style="left:421.80px;top:194.25px;width:18.15px;height:16.65px;background:#1c1c1c;"></div>
<div class="abs" style="left:440.95px;top:194.25px;width:18.15px;height:16.65px;background:#1c1c1c;"></div>
<div class="abs" style="left:460.10px;top:194.25px;width:18.15px;height:16.65px;background:#1c1c1c;"></div>
<div class="abs" style="left:479.25px;top:194.25px;width:18.15px;height:16.65px;background:#1c1c1c;"></div>
<div class="abs" style="left:479.00px;top:207.90px;width:18.00px;height:3.00px;background:#8cd84c;"></div>
<div class="abs" style="left:498.40px;top:194.25px;width:18.15px;height:16.65px;background:#1c1c1c;"></div>
<div class="abs" style="left:517.55px;top:194.25px;width:18.15px;height:16.65px;background:#1c1c1c;"></div>
<div class="abs" style="left:536.70px;top:194.25px;width:18.15px;height:16.65px;background:#1c1c1c;"></div>
<div class="abs" style="left:555.85px;top:194.25px;width:18.15px;height:16.65px;background:#1c1c1c;"></div>
<div class="abs" style="left:575.00px;top:194.25px;width:18.15px;height:16.65px;background:#1c1c1c;"></div>
<div class="abs" style="left:594.15px;top:194.25px;width:18.15px;height:16.65px;background:#1c1c1c;"></div>
<div class="abs" style="left:613.30px;top:194.25px;width:18.15px;height:16.65px;background:#1c1c1c;"></div>
<div class="abs" style="left:383.50px;top:211.90px;width:18.15px;height:16.65px;background:#1c1c1c;"></div>
<div class="abs" style="left:384.00px;top:227.05px;width:18.00px;height:1.50px;background:#b8d848;"></div>
<div class="abs" style="left:402.65px;top:211.90px;width:18.15px;height:16.65px;background:#1c1c1c;"></div>
<div class="abs" style="left:403.00px;top:227.05px;width:18.00px;height:1.50px;background:#9aa040;"></div>
<div class="abs" style="left:421.80px;top:211.90px;width:18.15px;height:16.65px;background:#1c1c1c;"></div>
<div class="abs" style="left:440.95px;top:211.90px;width:18.15px;height:16.65px;background:#1c1c1c;"></div>
<div class="abs" style="left:460.10px;top:211.90px;width:18.15px;height:16.65px;background:#1c1c1c;"></div>
<div class="abs" style="left:479.25px;top:211.90px;width:18.15px;height:16.65px;background:#1c1c1c;"></div>
<div class="abs" style="left:498.40px;top:211.90px;width:18.15px;height:16.65px;background:#1c1c1c;"></div>
<div class="abs" style="left:517.55px;top:211.90px;width:18.15px;height:16.65px;background:#1c1c1c;"></div>
<div class="abs" style="left:536.70px;top:211.90px;width:18.15px;height:16.65px;background:#1c1c1c;"></div>
<div class="abs" style="left:555.85px;top:211.90px;width:18.15px;height:16.65px;background:#1c1c1c;"></div>
<div class="abs" style="left:575.00px;top:211.90px;width:18.15px;height:16.65px;background:#1c1c1c;"></div>
<div class="abs" style="left:594.15px;top:211.90px;width:18.15px;height:16.65px;background:#1c1c1c;"></div>
<div class="abs" style="left:613.30px;top:211.90px;width:18.15px;height:16.65px;background:#1c1c1c;"></div>
<div class="abs" style="left:383.50px;top:229.55px;width:18.15px;height:16.65px;background:#1c1c1c;"></div>
<div class="abs" style="left:402.65px;top:229.55px;width:18.15px;height:16.65px;background:#1c1c1c;"></div>
<div class="abs" style="left:421.80px;top:229.55px;width:18.15px;height:16.65px;background:#1c1c1c;"></div>
<div class="abs" style="left:440.95px;top:229.55px;width:18.15px;height:16.65px;background:#1c1c1c;"></div>
<div class="abs" style="left:460.10px;top:229.55px;width:18.15px;height:16.65px;background:#1c1c1c;"></div>
<div class="abs" style="left:479.25px;top:229.55px;width:18.15px;height:16.65px;background:#1c1c1c;"></div>
<div class="abs" style="left:498.40px;top:229.55px;width:18.15px;height:16.65px;background:#1c1c1c;"></div>
<div class="abs" style="left:517.55px;top:229.55px;width:18.15px;height:16.65px;background:#1c1c1c;"></div>
<div class="abs" style="left:536.70px;top:229.55px;width:18.15px;height:16.65px;background:#1c1c1c;"></div>
<div class="abs" style="left:555.85px;top:229.55px;width:18.15px;height:16.65px;background:#1c1c1c;"></div>
<div class="abs" style="left:575.00px;top:229.55px;width:18.15px;height:16.65px;background:#1c1c1c;"></div>
<div class="abs" style="left:594.15px;top:229.55px;width:18.15px;height:16.65px;background:#1c1c1c;"></div>
<div class="abs" style="left:613.30px;top:229.55px;width:18.15px;height:16.65px;background:#1c1c1c;"></div>
<div class="abs" style="left:383.50px;top:247.20px;width:18.15px;height:16.65px;background:#1c1c1c;"></div>
<div class="abs" style="left:402.65px;top:247.20px;width:18.15px;height:16.65px;background:#1c1c1c;"></div>
<div class="abs" style="left:421.80px;top:247.20px;width:18.15px;height:16.65px;background:#1c1c1c;"></div>
<div class="abs" style="left:440.95px;top:247.20px;width:18.15px;height:16.65px;background:#1c1c1c;"></div>
<div class="abs" style="left:460.10px;top:247.20px;width:18.15px;height:16.65px;background:#1c1c1c;"></div>
<div class="abs" style="left:479.25px;top:247.20px;width:18.15px;height:16.65px;background:#1c1c1c;"></div>
<div class="abs" style="left:498.40px;top:247.20px;width:18.15px;height:16.65px;background:#1c1c1c;"></div>
<div class="abs" style="left:517.55px;top:247.20px;width:18.15px;height:16.65px;background:#1c1c1c;"></div>
<div class="abs" style="left:536.70px;top:247.20px;width:18.15px;height:16.65px;background:#1c1c1c;"></div>
<div class="abs" style="left:555.85px;top:247.20px;width:18.15px;height:16.65px;background:#1c1c1c;"></div>
<div class="abs" style="left:575.00px;top:247.20px;width:18.15px;height:16.65px;background:#1c1c1c;"></div>
<div class="abs" style="left:594.15px;top:247.20px;width:18.15px;height:16.65px;background:#1c1c1c;"></div>
<div class="abs" style="left:613.30px;top:247.20px;width:18.15px;height:16.65px;background:#1c1c1c;"></div>
<div class="abs" style="left:383.50px;top:264.85px;width:18.15px;height:16.65px;background:#1c1c1c;"></div>
<div class="abs" style="left:402.65px;top:264.85px;width:18.15px;height:16.65px;background:#1c1c1c;"></div>
<div class="abs" style="left:421.80px;top:264.85px;width:18.15px;height:16.65px;background:#1c1c1c;"></div>
<div class="abs" style="left:440.95px;top:264.85px;width:18.15px;height:16.65px;background:#1c1c1c;"></div>
<div class="abs" style="left:460.10px;top:264.85px;width:18.15px;height:16.65px;background:#1c1c1c;"></div>
<div class="abs" style="left:479.25px;top:264.85px;width:18.15px;height:16.65px;background:#1c1c1c;"></div>
<div class="abs" style="left:498.40px;top:264.85px;width:18.15px;height:16.65px;background:#1c1c1c;"></div>
<div class="abs" style="left:517.55px;top:264.85px;width:18.15px;height:16.65px;background:#1c1c1c;"></div>
<div class="abs" style="left:536.70px;top:264.85px;width:18.15px;height:16.65px;background:#1c1c1c;"></div>
<div class="abs" style="left:555.85px;top:264.85px;width:18.15px;height:16.65px;background:#1c1c1c;"></div>
<div class="abs" style="left:575.00px;top:264.85px;width:18.15px;height:16.65px;background:#1c1c1c;"></div>
<div class="abs" style="left:594.15px;top:264.85px;width:18.15px;height:16.65px;background:#1c1c1c;"></div>
<div class="abs" style="left:613.30px;top:264.85px;width:18.15px;height:16.65px;background:#1c1c1c;"></div>
<div class="abs" style="left:383.50px;top:282.50px;width:18.15px;height:16.65px;background:#1c1c1c;"></div>
<div class="abs" style="left:402.65px;top:282.50px;width:18.15px;height:16.65px;background:#1c1c1c;"></div>
<div class="abs" style="left:421.80px;top:282.50px;width:18.15px;height:16.65px;background:#1c1c1c;"></div>
<div class="abs" style="left:440.95px;top:282.50px;width:18.15px;height:16.65px;background:#1c1c1c;"></div>
<div class="abs" style="left:460.10px;top:282.50px;width:18.15px;height:16.65px;background:#1c1c1c;"></div>
<div class="abs" style="left:479.25px;top:282.50px;width:18.15px;height:16.65px;background:#1c1c1c;"></div>
<div class="abs" style="left:498.40px;top:282.50px;width:18.15px;height:16.65px;background:#1c1c1c;"></div>
<div class="abs" style="left:517.55px;top:282.50px;width:18.15px;height:16.65px;background:#1c1c1c;"></div>
<div class="abs" style="left:536.70px;top:282.50px;width:18.15px;height:16.65px;background:#1c1c1c;"></div>
<div class="abs" style="left:555.85px;top:282.50px;width:18.15px;height:16.65px;background:#1c1c1c;"></div>
<div class="abs" style="left:575.00px;top:282.50px;width:18.15px;height:16.65px;background:#1c1c1c;"></div>
<div class="abs" style="left:594.15px;top:282.50px;width:18.15px;height:16.65px;background:#1c1c1c;"></div>
<div class="abs" style="left:613.30px;top:282.50px;width:18.15px;height:16.65px;background:#1c1c1c;"></div>
<div class="abs" style="left:383.50px;top:300.15px;width:18.15px;height:16.65px;background:#1c1c1c;"></div>
<div class="abs" style="left:402.65px;top:300.15px;width:18.15px;height:16.65px;background:#1c1c1c;"></div>
<div class="abs" style="left:421.80px;top:300.15px;width:18.15px;height:16.65px;background:#1c1c1c;"></div>
<div class="abs" style="left:440.95px;top:300.15px;width:18.15px;height:16.65px;background:#1c1c1c;"></div>
<div class="abs" style="left:460.10px;top:300.15px;width:18.15px;height:16.65px;background:#1c1c1c;"></div>
<div class="abs" style="left:479.25px;top:300.15px;width:18.15px;height:16.65px;background:#1c1c1c;"></div>
<div class="abs" style="left:498.40px;top:300.15px;width:18.15px;height:16.65px;background:#1c1c1c;"></div>
<div class="abs" style="left:517.55px;top:300.15px;width:18.15px;height:16.65px;background:#1c1c1c;"></div>
<div class="abs" style="left:536.70px;top:300.15px;width:18.15px;height:16.65px;background:#1c1c1c;"></div>
<div class="abs" style="left:555.85px;top:300.15px;width:18.15px;height:16.65px;background:#1c1c1c;"></div>
<div class="abs" style="left:575.00px;top:300.15px;width:18.15px;height:16.65px;background:#1c1c1c;"></div>
<div class="abs" style="left:594.15px;top:300.15px;width:18.15px;height:16.65px;background:#1c1c1c;"></div>
<div class="abs" style="left:613.30px;top:300.15px;width:18.15px;height:16.65px;background:#1c1c1c;"></div>
<div class="abs" style="left:383.50px;top:317.80px;width:18.15px;height:16.65px;background:#1c1c1c;"></div>
<div class="abs" style="left:402.65px;top:317.80px;width:18.15px;height:16.65px;background:#1c1c1c;"></div>
<div class="abs" style="left:421.80px;top:317.80px;width:18.15px;height:16.65px;background:#1c1c1c;"></div>
<div class="abs" style="left:440.95px;top:317.80px;width:18.15px;height:16.65px;background:#1c1c1c;"></div>
<div class="abs" style="left:460.10px;top:317.80px;width:18.15px;height:16.65px;background:#1c1c1c;"></div>
<div class="abs" style="left:479.25px;top:317.80px;width:18.15px;height:16.65px;background:#1c1c1c;"></div>
<div class="abs" style="left:498.40px;top:317.80px;width:18.15px;height:16.65px;background:#1c1c1c;"></div>
<div class="abs" style="left:517.55px;top:317.80px;width:18.15px;height:16.65px;background:#1c1c1c;"></div>
<div class="abs" style="left:536.70px;top:317.80px;width:18.15px;height:16.65px;background:#1c1c1c;"></div>
<div class="abs" style="left:555.85px;top:317.80px;width:18.15px;height:16.65px;background:#1c1c1c;"></div>
<div class="abs" style="left:575.00px;top:317.80px;width:18.15px;height:16.65px;background:#1c1c1c;"></div>
<div class="abs" style="left:594.15px;top:317.80px;width:18.15px;height:16.65px;background:#1c1c1c;"></div>
<div class="abs" style="left:613.30px;top:317.80px;width:18.15px;height:16.65px;background:#1c1c1c;"></div>
<div class="abs" style="left:383.50px;top:335.45px;width:18.15px;height:16.65px;background:#1c1c1c;"></div>
<div class="abs" style="left:402.65px;top:335.45px;width:18.15px;height:16.65px;background:#1c1c1c;"></div>
<div class="abs" style="left:421.80px;top:335.45px;width:18.15px;height:16.65px;background:#1c1c1c;"></div>
<div class="abs" style="left:440.95px;top:335.45px;width:18.15px;height:16.65px;background:#1c1c1c;"></div>
<div class="abs" style="left:460.10px;top:335.45px;width:18.15px;height:16.65px;background:#1c1c1c;"></div>
<div class="abs" style="left:479.25px;top:335.45px;width:18.15px;height:16.65px;background:#1c1c1c;"></div>
<div class="abs" style="left:498.40px;top:335.45px;width:18.15px;height:16.65px;background:#1c1c1c;"></div>
<div class="abs" style="left:517.55px;top:335.45px;width:18.15px;height:16.65px;background:#1c1c1c;"></div>
<div class="abs" style="left:536.70px;top:335.45px;width:18.15px;height:16.65px;background:#1c1c1c;"></div>
<div class="abs" style="left:555.85px;top:335.45px;width:18.15px;height:16.65px;background:#1c1c1c;"></div>
<div class="abs" style="left:575.00px;top:335.45px;width:18.15px;height:16.65px;background:#1c1c1c;"></div>
<div class="abs" style="left:594.15px;top:335.45px;width:18.15px;height:16.65px;background:#1c1c1c;"></div>
<div class="abs" style="left:613.30px;top:335.45px;width:18.15px;height:16.65px;background:#1c1c1c;"></div>
<div class="abs" style="left:383.50px;top:353.10px;width:18.15px;height:16.65px;background:#1c1c1c;"></div>
<div class="abs" style="left:402.65px;top:353.10px;width:18.15px;height:16.65px;background:#1c1c1c;"></div>
<div class="abs" style="left:421.80px;top:353.10px;width:18.15px;height:16.65px;background:#1c1c1c;"></div>
<div class="abs" style="left:440.95px;top:353.10px;width:18.15px;height:16.65px;background:#1c1c1c;"></div>
<div class="abs" style="left:460.10px;top:353.10px;width:18.15px;height:16.65px;background:#1c1c1c;"></div>
<div class="abs" style="left:479.25px;top:353.10px;width:18.15px;height:16.65px;background:#1c1c1c;"></div>
<div class="abs" style="left:498.40px;top:353.10px;width:18.15px;height:16.65px;background:#1c1c1c;"></div>
<div class="abs" style="left:517.55px;top:353.10px;width:18.15px;height:16.65px;background:#1c1c1c;"></div>
<div class="abs" style="left:536.70px;top:353.10px;width:18.15px;height:16.65px;background:#1c1c1c;"></div>
<div class="abs" style="left:555.85px;top:353.10px;width:18.15px;height:16.65px;background:#1c1c1c;"></div>
<div class="abs" style="left:575.00px;top:353.10px;width:18.15px;height:16.65px;background:#1c1c1c;"></div>
<div class="abs" style="left:594.15px;top:353.10px;width:18.15px;height:16.65px;background:#1c1c1c;"></div>
<div class="abs" style="left:613.30px;top:353.10px;width:18.15px;height:16.65px;background:#1c1c1c;"></div>
<div class="t" style="left:383.00px;width:19.15px;text-align:center;top:146.98px;font-size:7.1px;letter-spacing:-0.25px;text-indent:-0.25px;color:#f2f2f2;">AA</div>
<div class="t" style="left:402.15px;width:19.15px;text-align:center;top:146.98px;font-size:7.1px;letter-spacing:-0.25px;text-indent:-0.25px;color:#f2f2f2;">AKs</div>
<div class="t" style="left:421.30px;width:19.15px;text-align:center;top:146.98px;font-size:7.1px;letter-spacing:-0.25px;text-indent:-0.25px;color:#f2f2f2;text-shadow:0 0 1px #000;">AQs</div>
<div class="t" style="left:440.45px;width:19.15px;text-align:center;top:146.98px;font-size:7.1px;letter-spacing:-0.25px;text-indent:-0.25px;color:#4b4b4b;">AJs</div>
<div class="t" style="left:459.60px;width:19.15px;text-align:center;top:146.98px;font-size:7.1px;letter-spacing:-0.25px;text-indent:-0.25px;color:#4b4b4b;">ATs</div>
<div class="t" style="left:478.75px;width:19.15px;text-align:center;top:146.98px;font-size:7.1px;letter-spacing:-0.25px;text-indent:-0.25px;color:#4b4b4b;">A9s</div>
<div class="t" style="left:497.90px;width:19.15px;text-align:center;top:146.98px;font-size:7.1px;letter-spacing:-0.25px;text-indent:-0.25px;color:#4b4b4b;">A8s</div>
<div class="t" style="left:517.05px;width:19.15px;text-align:center;top:146.98px;font-size:7.1px;letter-spacing:-0.25px;text-indent:-0.25px;color:#4b4b4b;">A7s</div>
<div class="t" style="left:536.20px;width:19.15px;text-align:center;top:146.98px;font-size:7.1px;letter-spacing:-0.25px;text-indent:-0.25px;color:#4b4b4b;">A6s</div>
<div class="t" style="left:555.35px;width:19.15px;text-align:center;top:146.98px;font-size:7.1px;letter-spacing:-0.25px;text-indent:-0.25px;color:#4b4b4b;">A5s</div>
<div class="t" style="left:574.50px;width:19.15px;text-align:center;top:146.98px;font-size:7.1px;letter-spacing:-0.25px;text-indent:-0.25px;color:#4b4b4b;">A4s</div>
<div class="t" style="left:593.65px;width:19.15px;text-align:center;top:146.98px;font-size:7.1px;letter-spacing:-0.25px;text-indent:-0.25px;color:#4b4b4b;">A3s</div>
<div class="t" style="left:612.80px;width:19.15px;text-align:center;top:146.98px;font-size:7.1px;letter-spacing:-0.25px;text-indent:-0.25px;color:#4b4b4b;">A2s</div>
<div class="t" style="left:383.00px;width:19.15px;text-align:center;top:164.63px;font-size:7.1px;letter-spacing:-0.25px;text-indent:-0.25px;color:#f2f2f2;text-shadow:0 0 1px #000;">AKo</div>
<div class="t" style="left:402.15px;width:19.15px;text-align:center;top:164.63px;font-size:7.1px;letter-spacing:-0.25px;text-indent:-0.25px;color:#f2f2f2;">KK</div>
<div class="t" style="left:421.30px;width:19.15px;text-align:center;top:164.63px;font-size:7.1px;letter-spacing:-0.25px;text-indent:-0.25px;color:#4b4b4b;">KQs</div>
<div class="t" style="left:440.45px;width:19.15px;text-align:center;top:164.63px;font-size:7.1px;letter-spacing:-0.25px;text-indent:-0.25px;color:#4b4b4b;">KJs</div>
<div class="t" style="left:459.60px;width:19.15px;text-align:center;top:164.63px;font-size:7.1px;letter-spacing:-0.25px;text-indent:-0.25px;color:#4b4b4b;">KTs</div>
<div class="t" style="left:478.75px;width:19.15px;text-align:center;top:164.63px;font-size:7.1px;letter-spacing:-0.25px;text-indent:-0.25px;color:#4b4b4b;">K9s</div>
<div class="t" style="left:497.90px;width:19.15px;text-align:center;top:164.63px;font-size:7.1px;letter-spacing:-0.25px;text-indent:-0.25px;color:#4b4b4b;">K8s</div>
<div class="t" style="left:517.05px;width:19.15px;text-align:center;top:164.63px;font-size:7.1px;letter-spacing:-0.25px;text-indent:-0.25px;color:#4b4b4b;">K7s</div>
<div class="t" style="left:536.20px;width:19.15px;text-align:center;top:164.63px;font-size:7.1px;letter-spacing:-0.25px;text-indent:-0.25px;color:#4b4b4b;">K6s</div>
<div class="t" style="left:555.35px;width:19.15px;text-align:center;top:164.63px;font-size:7.1px;letter-spacing:-0.25px;text-indent:-0.25px;color:#4b4b4b;">K5s</div>
<div class="t" style="left:574.50px;width:19.15px;text-align:center;top:164.63px;font-size:7.1px;letter-spacing:-0.25px;text-indent:-0.25px;color:#4b4b4b;">K4s</div>
<div class="t" style="left:593.65px;width:19.15px;text-align:center;top:164.63px;font-size:7.1px;letter-spacing:-0.25px;text-indent:-0.25px;color:#4b4b4b;">K3s</div>
<div class="t" style="left:612.80px;width:19.15px;text-align:center;top:164.63px;font-size:7.1px;letter-spacing:-0.25px;text-indent:-0.25px;color:#4b4b4b;">K2s</div>
<div class="t" style="left:383.00px;width:19.15px;text-align:center;top:182.28px;font-size:7.1px;letter-spacing:-0.25px;text-indent:-0.25px;color:#f2f2f2;text-shadow:0 0 1px #000;">AQo</div>
<div class="t" style="left:402.15px;width:19.15px;text-align:center;top:182.28px;font-size:7.1px;letter-spacing:-0.25px;text-indent:-0.25px;color:#f2f2f2;text-shadow:0 0 1px #000;">KQo</div>
<div class="t" style="left:421.30px;width:19.15px;text-align:center;top:182.28px;font-size:7.1px;letter-spacing:-0.25px;text-indent:-0.25px;color:#f2f2f2;">QQ</div>
<div class="t" style="left:440.45px;width:19.15px;text-align:center;top:182.28px;font-size:7.1px;letter-spacing:-0.25px;text-indent:-0.25px;color:#4b4b4b;">QJs</div>
<div class="t" style="left:459.60px;width:19.15px;text-align:center;top:182.28px;font-size:7.1px;letter-spacing:-0.25px;text-indent:-0.25px;color:#4b4b4b;">QTs</div>
<div class="t" style="left:478.75px;width:19.15px;text-align:center;top:182.28px;font-size:7.1px;letter-spacing:-0.25px;text-indent:-0.25px;color:#f2f2f2;text-shadow:0 0 1px #000;">Q9s</div>
<div class="t" style="left:497.90px;width:19.15px;text-align:center;top:182.28px;font-size:7.1px;letter-spacing:-0.25px;text-indent:-0.25px;color:#4b4b4b;">Q8s</div>
<div class="t" style="left:517.05px;width:19.15px;text-align:center;top:182.28px;font-size:7.1px;letter-spacing:-0.25px;text-indent:-0.25px;color:#4b4b4b;">Q7s</div>
<div class="t" style="left:536.20px;width:19.15px;text-align:center;top:182.28px;font-size:7.1px;letter-spacing:-0.25px;text-indent:-0.25px;color:#4b4b4b;">Q6s</div>
<div class="t" style="left:555.35px;width:19.15px;text-align:center;top:182.28px;font-size:7.1px;letter-spacing:-0.25px;text-indent:-0.25px;color:#4b4b4b;">Q5s</div>
<div class="t" style="left:574.50px;width:19.15px;text-align:center;top:182.28px;font-size:7.1px;letter-spacing:-0.25px;text-indent:-0.25px;color:#4b4b4b;">Q4s</div>
<div class="t" style="left:593.65px;width:19.15px;text-align:center;top:182.28px;font-size:7.1px;letter-spacing:-0.25px;text-indent:-0.25px;color:#4b4b4b;">Q3s</div>
<div class="t" style="left:612.80px;width:19.15px;text-align:center;top:182.28px;font-size:7.1px;letter-spacing:-0.25px;text-indent:-0.25px;color:#4b4b4b;">Q2s</div>
<div class="t" style="left:383.00px;width:19.15px;text-align:center;top:199.93px;font-size:7.1px;letter-spacing:-0.25px;text-indent:-0.25px;color:#f2f2f2;text-shadow:0 0 1px #000;">AJo</div>
<div class="t" style="left:402.15px;width:19.15px;text-align:center;top:199.93px;font-size:7.1px;letter-spacing:-0.25px;text-indent:-0.25px;color:#f2f2f2;text-shadow:0 0 1px #000;">KJo</div>
<div class="t" style="left:421.30px;width:19.15px;text-align:center;top:199.93px;font-size:7.1px;letter-spacing:-0.25px;text-indent:-0.25px;color:#4b4b4b;">QJo</div>
<div class="t" style="left:440.45px;width:19.15px;text-align:center;top:199.93px;font-size:7.1px;letter-spacing:-0.25px;text-indent:-0.25px;color:#4b4b4b;">JJ</div>
<div class="t" style="left:459.60px;width:19.15px;text-align:center;top:199.93px;font-size:7.1px;letter-spacing:-0.25px;text-indent:-0.25px;color:#4b4b4b;">JTs</div>
<div class="t" style="left:478.75px;width:19.15px;text-align:center;top:199.93px;font-size:7.1px;letter-spacing:-0.25px;text-indent:-0.25px;color:#f2f2f2;text-shadow:0 0 1px #000;">J9s</div>
<div class="t" style="left:497.90px;width:19.15px;text-align:center;top:199.93px;font-size:7.1px;letter-spacing:-0.25px;text-indent:-0.25px;color:#4b4b4b;">J8s</div>
<div class="t" style="left:517.05px;width:19.15px;text-align:center;top:199.93px;font-size:7.1px;letter-spacing:-0.25px;text-indent:-0.25px;color:#4b4b4b;">J7s</div>
<div class="t" style="left:536.20px;width:19.15px;text-align:center;top:199.93px;font-size:7.1px;letter-spacing:-0.25px;text-indent:-0.25px;color:#4b4b4b;">J6s</div>
<div class="t" style="left:555.35px;width:19.15px;text-align:center;top:199.93px;font-size:7.1px;letter-spacing:-0.25px;text-indent:-0.25px;color:#4b4b4b;">J5s</div>
<div class="t" style="left:574.50px;width:19.15px;text-align:center;top:199.93px;font-size:7.1px;letter-spacing:-0.25px;text-indent:-0.25px;color:#4b4b4b;">J4s</div>
<div class="t" style="left:593.65px;width:19.15px;text-align:center;top:199.93px;font-size:7.1px;letter-spacing:-0.25px;text-indent:-0.25px;color:#4b4b4b;">J3s</div>
<div class="t" style="left:612.80px;width:19.15px;text-align:center;top:199.93px;font-size:7.1px;letter-spacing:-0.25px;text-indent:-0.25px;color:#4b4b4b;">J2s</div>
<div class="t" style="left:383.00px;width:19.15px;text-align:center;top:217.58px;font-size:7.1px;letter-spacing:-0.25px;text-indent:-0.25px;color:#f2f2f2;text-shadow:0 0 1px #000;">ATo</div>
<div class="t" style="left:402.15px;width:19.15px;text-align:center;top:217.58px;font-size:7.1px;letter-spacing:-0.25px;text-indent:-0.25px;color:#f2f2f2;text-shadow:0 0 1px #000;">KTo</div>
<div class="t" style="left:421.30px;width:19.15px;text-align:center;top:217.58px;font-size:7.1px;letter-spacing:-0.25px;text-indent:-0.25px;color:#4b4b4b;">QTo</div>
<div class="t" style="left:440.45px;width:19.15px;text-align:center;top:217.58px;font-size:7.1px;letter-spacing:-0.25px;text-indent:-0.25px;color:#4b4b4b;">JTo</div>
<div class="t" style="left:459.60px;width:19.15px;text-align:center;top:217.58px;font-size:7.1px;letter-spacing:-0.25px;text-indent:-0.25px;color:#4b4b4b;">TT</div>
<div class="t" style="left:478.75px;width:19.15px;text-align:center;top:217.58px;font-size:7.1px;letter-spacing:-0.25px;text-indent:-0.25px;color:#f2f2f2;text-shadow:0 0 1px #000;">T9s</div>
<div class="t" style="left:497.90px;width:19.15px;text-align:center;top:217.58px;font-size:7.1px;letter-spacing:-0.25px;text-indent:-0.25px;color:#f2f2f2;text-shadow:0 0 1px #000;">T8s</div>
<div class="t" style="left:517.05px;width:19.15px;text-align:center;top:217.58px;font-size:7.1px;letter-spacing:-0.25px;text-indent:-0.25px;color:#4b4b4b;">T7s</div>
<div class="t" style="left:536.20px;width:19.15px;text-align:center;top:217.58px;font-size:7.1px;letter-spacing:-0.25px;text-indent:-0.25px;color:#4b4b4b;">T6s</div>
<div class="t" style="left:555.35px;width:19.15px;text-align:center;top:217.58px;font-size:7.1px;letter-spacing:-0.25px;text-indent:-0.25px;color:#4b4b4b;">T5s</div>
<div class="t" style="left:574.50px;width:19.15px;text-align:center;top:217.58px;font-size:7.1px;letter-spacing:-0.25px;text-indent:-0.25px;color:#4b4b4b;">T4s</div>
<div class="t" style="left:593.65px;width:19.15px;text-align:center;top:217.58px;font-size:7.1px;letter-spacing:-0.25px;text-indent:-0.25px;color:#4b4b4b;">T3s</div>
<div class="t" style="left:612.80px;width:19.15px;text-align:center;top:217.58px;font-size:7.1px;letter-spacing:-0.25px;text-indent:-0.25px;color:#4b4b4b;">T2s</div>
<div class="t" style="left:383.00px;width:19.15px;text-align:center;top:235.23px;font-size:7.1px;letter-spacing:-0.25px;text-indent:-0.25px;color:#4b4b4b;">A9o</div>
<div class="t" style="left:402.15px;width:19.15px;text-align:center;top:235.23px;font-size:7.1px;letter-spacing:-0.25px;text-indent:-0.25px;color:#4b4b4b;">K9o</div>
<div class="t" style="left:421.30px;width:19.15px;text-align:center;top:235.23px;font-size:7.1px;letter-spacing:-0.25px;text-indent:-0.25px;color:#4b4b4b;">Q9o</div>
<div class="t" style="left:440.45px;width:19.15px;text-align:center;top:235.23px;font-size:7.1px;letter-spacing:-0.25px;text-indent:-0.25px;color:#4b4b4b;">J9o</div>
<div class="t" style="left:459.60px;width:19.15px;text-align:center;top:235.23px;font-size:7.1px;letter-spacing:-0.25px;text-indent:-0.25px;color:#4b4b4b;">T9o</div>
<div class="t" style="left:478.75px;width:19.15px;text-align:center;top:235.23px;font-size:7.1px;letter-spacing:-0.25px;text-indent:-0.25px;color:#4b4b4b;">99</div>
<div class="t" style="left:497.90px;width:19.15px;text-align:center;top:235.23px;font-size:7.1px;letter-spacing:-0.25px;text-indent:-0.25px;color:#4b4b4b;">98s</div>
<div class="t" style="left:517.05px;width:19.15px;text-align:center;top:235.23px;font-size:7.1px;letter-spacing:-0.25px;text-indent:-0.25px;color:#4b4b4b;">97s</div>
<div class="t" style="left:536.20px;width:19.15px;text-align:center;top:235.23px;font-size:7.1px;letter-spacing:-0.25px;text-indent:-0.25px;color:#4b4b4b;">96s</div>
<div class="t" style="left:555.35px;width:19.15px;text-align:center;top:235.23px;font-size:7.1px;letter-spacing:-0.25px;text-indent:-0.25px;color:#4b4b4b;">95s</div>
<div class="t" style="left:574.50px;width:19.15px;text-align:center;top:235.23px;font-size:7.1px;letter-spacing:-0.25px;text-indent:-0.25px;color:#4b4b4b;">94s</div>
<div class="t" style="left:593.65px;width:19.15px;text-align:center;top:235.23px;font-size:7.1px;letter-spacing:-0.25px;text-indent:-0.25px;color:#4b4b4b;">93s</div>
<div class="t" style="left:612.80px;width:19.15px;text-align:center;top:235.23px;font-size:7.1px;letter-spacing:-0.25px;text-indent:-0.25px;color:#4b4b4b;">92s</div>
<div class="t" style="left:383.00px;width:19.15px;text-align:center;top:252.88px;font-size:7.1px;letter-spacing:-0.25px;text-indent:-0.25px;color:#4b4b4b;">A8o</div>
<div class="t" style="left:402.15px;width:19.15px;text-align:center;top:252.88px;font-size:7.1px;letter-spacing:-0.25px;text-indent:-0.25px;color:#4b4b4b;">K8o</div>
<div class="t" style="left:421.30px;width:19.15px;text-align:center;top:252.88px;font-size:7.1px;letter-spacing:-0.25px;text-indent:-0.25px;color:#4b4b4b;">Q8o</div>
<div class="t" style="left:440.45px;width:19.15px;text-align:center;top:252.88px;font-size:7.1px;letter-spacing:-0.25px;text-indent:-0.25px;color:#4b4b4b;">J8o</div>
<div class="t" style="left:459.60px;width:19.15px;text-align:center;top:252.88px;font-size:7.1px;letter-spacing:-0.25px;text-indent:-0.25px;color:#4b4b4b;">T8o</div>
<div class="t" style="left:478.75px;width:19.15px;text-align:center;top:252.88px;font-size:7.1px;letter-spacing:-0.25px;text-indent:-0.25px;color:#4b4b4b;">98o</div>
<div class="t" style="left:497.90px;width:19.15px;text-align:center;top:252.88px;font-size:7.1px;letter-spacing:-0.25px;text-indent:-0.25px;color:#4b4b4b;">88</div>
<div class="t" style="left:517.05px;width:19.15px;text-align:center;top:252.88px;font-size:7.1px;letter-spacing:-0.25px;text-indent:-0.25px;color:#4b4b4b;">87s</div>
<div class="t" style="left:536.20px;width:19.15px;text-align:center;top:252.88px;font-size:7.1px;letter-spacing:-0.25px;text-indent:-0.25px;color:#4b4b4b;">86s</div>
<div class="t" style="left:555.35px;width:19.15px;text-align:center;top:252.88px;font-size:7.1px;letter-spacing:-0.25px;text-indent:-0.25px;color:#4b4b4b;">85s</div>
<div class="t" style="left:574.50px;width:19.15px;text-align:center;top:252.88px;font-size:7.1px;letter-spacing:-0.25px;text-indent:-0.25px;color:#4b4b4b;">84s</div>
<div class="t" style="left:593.65px;width:19.15px;text-align:center;top:252.88px;font-size:7.1px;letter-spacing:-0.25px;text-indent:-0.25px;color:#4b4b4b;">83s</div>
<div class="t" style="left:612.80px;width:19.15px;text-align:center;top:252.88px;font-size:7.1px;letter-spacing:-0.25px;text-indent:-0.25px;color:#4b4b4b;">82s</div>
<div class="t" style="left:383.00px;width:19.15px;text-align:center;top:270.53px;font-size:7.1px;letter-spacing:-0.25px;text-indent:-0.25px;color:#4b4b4b;">A7o</div>
<div class="t" style="left:402.15px;width:19.15px;text-align:center;top:270.53px;font-size:7.1px;letter-spacing:-0.25px;text-indent:-0.25px;color:#4b4b4b;">K7o</div>
<div class="t" style="left:421.30px;width:19.15px;text-align:center;top:270.53px;font-size:7.1px;letter-spacing:-0.25px;text-indent:-0.25px;color:#4b4b4b;">Q7o</div>
<div class="t" style="left:440.45px;width:19.15px;text-align:center;top:270.53px;font-size:7.1px;letter-spacing:-0.25px;text-indent:-0.25px;color:#4b4b4b;">J7o</div>
<div class="t" style="left:459.60px;width:19.15px;text-align:center;top:270.53px;font-size:7.1px;letter-spacing:-0.25px;text-indent:-0.25px;color:#4b4b4b;">T7o</div>
<div class="t" style="left:478.75px;width:19.15px;text-align:center;top:270.53px;font-size:7.1px;letter-spacing:-0.25px;text-indent:-0.25px;color:#4b4b4b;">97o</div>
<div class="t" style="left:497.90px;width:19.15px;text-align:center;top:270.53px;font-size:7.1px;letter-spacing:-0.25px;text-indent:-0.25px;color:#4b4b4b;">87o</div>
<div class="t" style="left:517.05px;width:19.15px;text-align:center;top:270.53px;font-size:7.1px;letter-spacing:-0.25px;text-indent:-0.25px;color:#4b4b4b;">77</div>
<div class="t" style="left:536.20px;width:19.15px;text-align:center;top:270.53px;font-size:7.1px;letter-spacing:-0.25px;text-indent:-0.25px;color:#4b4b4b;">76s</div>
<div class="t" style="left:555.35px;width:19.15px;text-align:center;top:270.53px;font-size:7.1px;letter-spacing:-0.25px;text-indent:-0.25px;color:#4b4b4b;">75s</div>
<div class="t" style="left:574.50px;width:19.15px;text-align:center;top:270.53px;font-size:7.1px;letter-spacing:-0.25px;text-indent:-0.25px;color:#4b4b4b;">74s</div>
<div class="t" style="left:593.65px;width:19.15px;text-align:center;top:270.53px;font-size:7.1px;letter-spacing:-0.25px;text-indent:-0.25px;color:#4b4b4b;">73s</div>
<div class="t" style="left:612.80px;width:19.15px;text-align:center;top:270.53px;font-size:7.1px;letter-spacing:-0.25px;text-indent:-0.25px;color:#4b4b4b;">72s</div>
<div class="t" style="left:383.00px;width:19.15px;text-align:center;top:288.18px;font-size:7.1px;letter-spacing:-0.25px;text-indent:-0.25px;color:#4b4b4b;">A6o</div>
<div class="t" style="left:402.15px;width:19.15px;text-align:center;top:288.18px;font-size:7.1px;letter-spacing:-0.25px;text-indent:-0.25px;color:#4b4b4b;">K6o</div>
<div class="t" style="left:421.30px;width:19.15px;text-align:center;top:288.18px;font-size:7.1px;letter-spacing:-0.25px;text-indent:-0.25px;color:#4b4b4b;">Q6o</div>
<div class="t" style="left:440.45px;width:19.15px;text-align:center;top:288.18px;font-size:7.1px;letter-spacing:-0.25px;text-indent:-0.25px;color:#4b4b4b;">J6o</div>
<div class="t" style="left:459.60px;width:19.15px;text-align:center;top:288.18px;font-size:7.1px;letter-spacing:-0.25px;text-indent:-0.25px;color:#4b4b4b;">T6o</div>
<div class="t" style="left:478.75px;width:19.15px;text-align:center;top:288.18px;font-size:7.1px;letter-spacing:-0.25px;text-indent:-0.25px;color:#4b4b4b;">96o</div>
<div class="t" style="left:497.90px;width:19.15px;text-align:center;top:288.18px;font-size:7.1px;letter-spacing:-0.25px;text-indent:-0.25px;color:#4b4b4b;">86o</div>
<div class="t" style="left:517.05px;width:19.15px;text-align:center;top:288.18px;font-size:7.1px;letter-spacing:-0.25px;text-indent:-0.25px;color:#4b4b4b;">76o</div>
<div class="t" style="left:536.20px;width:19.15px;text-align:center;top:288.18px;font-size:7.1px;letter-spacing:-0.25px;text-indent:-0.25px;color:#4b4b4b;">66</div>
<div class="t" style="left:555.35px;width:19.15px;text-align:center;top:288.18px;font-size:7.1px;letter-spacing:-0.25px;text-indent:-0.25px;color:#4b4b4b;">65s</div>
<div class="t" style="left:574.50px;width:19.15px;text-align:center;top:288.18px;font-size:7.1px;letter-spacing:-0.25px;text-indent:-0.25px;color:#4b4b4b;">64s</div>
<div class="t" style="left:593.65px;width:19.15px;text-align:center;top:288.18px;font-size:7.1px;letter-spacing:-0.25px;text-indent:-0.25px;color:#4b4b4b;">63s</div>
<div class="t" style="left:612.80px;width:19.15px;text-align:center;top:288.18px;font-size:7.1px;letter-spacing:-0.25px;text-indent:-0.25px;color:#4b4b4b;">62s</div>
<div class="t" style="left:383.00px;width:19.15px;text-align:center;top:305.83px;font-size:7.1px;letter-spacing:-0.25px;text-indent:-0.25px;color:#4b4b4b;">A5o</div>
<div class="t" style="left:402.15px;width:19.15px;text-align:center;top:305.83px;font-size:7.1px;letter-spacing:-0.25px;text-indent:-0.25px;color:#4b4b4b;">K5o</div>
<div class="t" style="left:421.30px;width:19.15px;text-align:center;top:305.83px;font-size:7.1px;letter-spacing:-0.25px;text-indent:-0.25px;color:#4b4b4b;">Q5o</div>
<div class="t" style="left:440.45px;width:19.15px;text-align:center;top:305.83px;font-size:7.1px;letter-spacing:-0.25px;text-indent:-0.25px;color:#4b4b4b;">J5o</div>
<div class="t" style="left:459.60px;width:19.15px;text-align:center;top:305.83px;font-size:7.1px;letter-spacing:-0.25px;text-indent:-0.25px;color:#4b4b4b;">T5o</div>
<div class="t" style="left:478.75px;width:19.15px;text-align:center;top:305.83px;font-size:7.1px;letter-spacing:-0.25px;text-indent:-0.25px;color:#4b4b4b;">95o</div>
<div class="t" style="left:497.90px;width:19.15px;text-align:center;top:305.83px;font-size:7.1px;letter-spacing:-0.25px;text-indent:-0.25px;color:#4b4b4b;">85o</div>
<div class="t" style="left:517.05px;width:19.15px;text-align:center;top:305.83px;font-size:7.1px;letter-spacing:-0.25px;text-indent:-0.25px;color:#4b4b4b;">75o</div>
<div class="t" style="left:536.20px;width:19.15px;text-align:center;top:305.83px;font-size:7.1px;letter-spacing:-0.25px;text-indent:-0.25px;color:#4b4b4b;">65o</div>
<div class="t" style="left:555.35px;width:19.15px;text-align:center;top:305.83px;font-size:7.1px;letter-spacing:-0.25px;text-indent:-0.25px;color:#4b4b4b;">55</div>
<div class="t" style="left:574.50px;width:19.15px;text-align:center;top:305.83px;font-size:7.1px;letter-spacing:-0.25px;text-indent:-0.25px;color:#4b4b4b;">54s</div>
<div class="t" style="left:593.65px;width:19.15px;text-align:center;top:305.83px;font-size:7.1px;letter-spacing:-0.25px;text-indent:-0.25px;color:#4b4b4b;">53s</div>
<div class="t" style="left:612.80px;width:19.15px;text-align:center;top:305.83px;font-size:7.1px;letter-spacing:-0.25px;text-indent:-0.25px;color:#4b4b4b;">52s</div>
<div class="t" style="left:383.00px;width:19.15px;text-align:center;top:323.48px;font-size:7.1px;letter-spacing:-0.25px;text-indent:-0.25px;color:#4b4b4b;">A4o</div>
<div class="t" style="left:402.15px;width:19.15px;text-align:center;top:323.48px;font-size:7.1px;letter-spacing:-0.25px;text-indent:-0.25px;color:#4b4b4b;">K4o</div>
<div class="t" style="left:421.30px;width:19.15px;text-align:center;top:323.48px;font-size:7.1px;letter-spacing:-0.25px;text-indent:-0.25px;color:#4b4b4b;">Q4o</div>
<div class="t" style="left:440.45px;width:19.15px;text-align:center;top:323.48px;font-size:7.1px;letter-spacing:-0.25px;text-indent:-0.25px;color:#4b4b4b;">J4o</div>
<div class="t" style="left:459.60px;width:19.15px;text-align:center;top:323.48px;font-size:7.1px;letter-spacing:-0.25px;text-indent:-0.25px;color:#4b4b4b;">T4o</div>
<div class="t" style="left:478.75px;width:19.15px;text-align:center;top:323.48px;font-size:7.1px;letter-spacing:-0.25px;text-indent:-0.25px;color:#4b4b4b;">94o</div>
<div class="t" style="left:497.90px;width:19.15px;text-align:center;top:323.48px;font-size:7.1px;letter-spacing:-0.25px;text-indent:-0.25px;color:#4b4b4b;">84o</div>
<div class="t" style="left:517.05px;width:19.15px;text-align:center;top:323.48px;font-size:7.1px;letter-spacing:-0.25px;text-indent:-0.25px;color:#4b4b4b;">74o</div>
<div class="t" style="left:536.20px;width:19.15px;text-align:center;top:323.48px;font-size:7.1px;letter-spacing:-0.25px;text-indent:-0.25px;color:#4b4b4b;">64o</div>
<div class="t" style="left:555.35px;width:19.15px;text-align:center;top:323.48px;font-size:7.1px;letter-spacing:-0.25px;text-indent:-0.25px;color:#4b4b4b;">54o</div>
<div class="t" style="left:574.50px;width:19.15px;text-align:center;top:323.48px;font-size:7.1px;letter-spacing:-0.25px;text-indent:-0.25px;color:#4b4b4b;">44</div>
<div class="t" style="left:593.65px;width:19.15px;text-align:center;top:323.48px;font-size:7.1px;letter-spacing:-0.25px;text-indent:-0.25px;color:#4b4b4b;">43s</div>
<div class="t" style="left:612.80px;width:19.15px;text-align:center;top:323.48px;font-size:7.1px;letter-spacing:-0.25px;text-indent:-0.25px;color:#4b4b4b;">42s</div>
<div class="t" style="left:383.00px;width:19.15px;text-align:center;top:341.13px;font-size:7.1px;letter-spacing:-0.25px;text-indent:-0.25px;color:#4b4b4b;">A3o</div>
<div class="t" style="left:402.15px;width:19.15px;text-align:center;top:341.13px;font-size:7.1px;letter-spacing:-0.25px;text-indent:-0.25px;color:#4b4b4b;">K3o</div>
<div class="t" style="left:421.30px;width:19.15px;text-align:center;top:341.13px;font-size:7.1px;letter-spacing:-0.25px;text-indent:-0.25px;color:#4b4b4b;">Q3o</div>
<div class="t" style="left:440.45px;width:19.15px;text-align:center;top:341.13px;font-size:7.1px;letter-spacing:-0.25px;text-indent:-0.25px;color:#4b4b4b;">J3o</div>
<div class="t" style="left:459.60px;width:19.15px;text-align:center;top:341.13px;font-size:7.1px;letter-spacing:-0.25px;text-indent:-0.25px;color:#4b4b4b;">T3o</div>
<div class="t" style="left:478.75px;width:19.15px;text-align:center;top:341.13px;font-size:7.1px;letter-spacing:-0.25px;text-indent:-0.25px;color:#4b4b4b;">93o</div>
<div class="t" style="left:497.90px;width:19.15px;text-align:center;top:341.13px;font-size:7.1px;letter-spacing:-0.25px;text-indent:-0.25px;color:#4b4b4b;">83o</div>
<div class="t" style="left:517.05px;width:19.15px;text-align:center;top:341.13px;font-size:7.1px;letter-spacing:-0.25px;text-indent:-0.25px;color:#4b4b4b;">73o</div>
<div class="t" style="left:536.20px;width:19.15px;text-align:center;top:341.13px;font-size:7.1px;letter-spacing:-0.25px;text-indent:-0.25px;color:#4b4b4b;">63o</div>
<div class="t" style="left:555.35px;width:19.15px;text-align:center;top:341.13px;font-size:7.1px;letter-spacing:-0.25px;text-indent:-0.25px;color:#4b4b4b;">53o</div>
<div class="t" style="left:574.50px;width:19.15px;text-align:center;top:341.13px;font-size:7.1px;letter-spacing:-0.25px;text-indent:-0.25px;color:#4b4b4b;">43o</div>
<div class="t" style="left:593.65px;width:19.15px;text-align:center;top:341.13px;font-size:7.1px;letter-spacing:-0.25px;text-indent:-0.25px;color:#4b4b4b;">33</div>
<div class="t" style="left:612.80px;width:19.15px;text-align:center;top:341.13px;font-size:7.1px;letter-spacing:-0.25px;text-indent:-0.25px;color:#4b4b4b;">32s</div>
<div class="t" style="left:383.00px;width:19.15px;text-align:center;top:358.78px;font-size:7.1px;letter-spacing:-0.25px;text-indent:-0.25px;color:#4b4b4b;">A2o</div>
<div class="t" style="left:402.15px;width:19.15px;text-align:center;top:358.78px;font-size:7.1px;letter-spacing:-0.25px;text-indent:-0.25px;color:#4b4b4b;">K2o</div>
<div class="t" style="left:421.30px;width:19.15px;text-align:center;top:358.78px;font-size:7.1px;letter-spacing:-0.25px;text-indent:-0.25px;color:#4b4b4b;">Q2o</div>
<div class="t" style="left:440.45px;width:19.15px;text-align:center;top:358.78px;font-size:7.1px;letter-spacing:-0.25px;text-indent:-0.25px;color:#4b4b4b;">J2o</div>
<div class="t" style="left:459.60px;width:19.15px;text-align:center;top:358.78px;font-size:7.1px;letter-spacing:-0.25px;text-indent:-0.25px;color:#4b4b4b;">T2o</div>
<div class="t" style="left:478.75px;width:19.15px;text-align:center;top:358.78px;font-size:7.1px;letter-spacing:-0.25px;text-indent:-0.25px;color:#4b4b4b;">92o</div>
<div class="t" style="left:497.90px;width:19.15px;text-align:center;top:358.78px;font-size:7.1px;letter-spacing:-0.25px;text-indent:-0.25px;color:#4b4b4b;">82o</div>
<div class="t" style="left:517.05px;width:19.15px;text-align:center;top:358.78px;font-size:7.1px;letter-spacing:-0.25px;text-indent:-0.25px;color:#4b4b4b;">72o</div>
<div class="t" style="left:536.20px;width:19.15px;text-align:center;top:358.78px;font-size:7.1px;letter-spacing:-0.25px;text-indent:-0.25px;color:#4b4b4b;">62o</div>
<div class="t" style="left:555.35px;width:19.15px;text-align:center;top:358.78px;font-size:7.1px;letter-spacing:-0.25px;text-indent:-0.25px;color:#4b4b4b;">52o</div>
<div class="t" style="left:574.50px;width:19.15px;text-align:center;top:358.78px;font-size:7.1px;letter-spacing:-0.25px;text-indent:-0.25px;color:#4b4b4b;">42o</div>
<div class="t" style="left:593.65px;width:19.15px;text-align:center;top:358.78px;font-size:7.1px;letter-spacing:-0.25px;text-indent:-0.25px;color:#4b4b4b;">32o</div>
<div class="t" style="left:612.80px;width:19.15px;text-align:center;top:358.78px;font-size:7.1px;letter-spacing:-0.25px;text-indent:-0.25px;color:#4b4b4b;">22</div>
<svg style="left:2.5px;top:129.8px" width="8" height="9" viewBox="0 0 8 9"><rect x="0.5" y="0.5" width="5" height="6" fill="none" stroke="#e0e0e0" stroke-width="1"/><rect x="2.5" y="2.5" width="5" height="6" fill="#131313" stroke="#e0e0e0" stroke-width="1"/></svg>
<svg style="left:621.5px;top:129.8px" width="8" height="9" viewBox="0 0 8 9"><rect x="0.5" y="0.5" width="5" height="6" fill="none" stroke="#e0e0e0" stroke-width="1"/><rect x="2.5" y="2.5" width="5" height="6" fill="#131313" stroke="#e0e0e0" stroke-width="1"/></svg>
<div class="abs" style="left:155.40px;top:129.40px;width:62.30px;height:9.90px;background:#1f1f1f;border-radius:2px"></div>
<div class="abs" style="left:203.70px;top:129.40px;width:0.80px;height:9.90px;background:#2c2c2c;"></div>
<div class="t" style="top:130.93px;font-size:7.2px;color:#e8e8e8;font-weight:700;letter-spacing:-0.4px;left:162.00px;">STRATEGY</div>
<svg style="left:208.5px;top:133px" width="5" height="3" viewBox="0 0 5 3"><path d="M0 0H5L2.5 2.8Z" fill="#9a9aa6"/></svg>
<svg style="left:225.5px;top:131px" width="7" height="6.5" viewBox="0 0 7 6.5"><path d="M0.3 0.8 L1.8 2.5 L3.5 0.3 L5.2 2.5 L6.7 0.8 V4.5 H0.3 Z" fill="#c8c8c8"/><rect x="0.3" y="5.3" width="6.4" height="1.1" fill="#c8c8c8"/></svg>
<div class="t" style="top:130.35px;font-size:8.2px;color:#b8b8b8;font-weight:700;left:235.30px;">BB</div>
<div class="t" style="top:130.20px;font-size:8.3px;color:#b0b0b0;font-weight:700;letter-spacing:0.1px;left:386.00px;">BTN</div>
<div class="abs" style="left:409.70px;top:129.40px;width:62.30px;height:9.90px;background:#1f1f1f;border-radius:2px"></div>
<div class="abs" style="left:458.30px;top:129.40px;width:0.80px;height:9.90px;background:#2c2c2c;"></div>
<div class="t" style="top:130.93px;font-size:7.2px;color:#e8e8e8;font-weight:700;letter-spacing:-0.35px;left:421.30px;">EQUITY</div>
<svg style="left:463px;top:133px" width="5" height="3" viewBox="0 0 5 3"><path d="M0 0H5L2.5 2.8Z" fill="#9a9aa6"/></svg>
<div class="t" style="top:140.34px;font-size:7.6px;color:#18b08f;font-weight:700;letter-spacing:0.35px;left:250.70px;">46.5</div>
<div class="t" style="top:140.34px;font-size:7.6px;color:#b4b4b4;font-weight:700;letter-spacing:0.05px;left:315.60px;transform:translateX(-50%);">COMBOS</div>
<div class="t" style="top:140.34px;font-size:7.6px;color:#e8413e;font-weight:700;letter-spacing:0.35px;right:707.80px;">25.3</div>
<div class="abs" style="left:250.70px;top:150.40px;width:130.50px;height:4.80px;background:#1f1f1f;border-radius:2.4px"></div>
<div class="abs" style="left:273.00px;top:150.40px;width:42.60px;height:4.80px;background:#14a88a;"></div>
<div class="abs" style="left:315.60px;top:150.40px;width:23.40px;height:4.80px;background:#555555;"></div>
<div class="t" style="top:160.14px;font-size:7.6px;color:#e8413e;font-weight:700;letter-spacing:0.35px;left:250.70px;">18.88</div>
<div class="t" style="top:160.14px;font-size:7.6px;color:#b4b4b4;font-weight:700;letter-spacing:0.05px;left:315.60px;transform:translateX(-50%);">EV</div>
<div class="t" style="top:160.14px;font-size:7.6px;color:#18b08f;font-weight:700;letter-spacing:0.35px;right:707.80px;">108.02</div>
<div class="abs" style="left:250.70px;top:170.40px;width:130.50px;height:4.80px;background:#1f1f1f;border-radius:2.4px"></div>
<div class="abs" style="left:305.40px;top:170.40px;width:10.20px;height:4.80px;background:#555555;"></div>
<div class="abs" style="left:315.60px;top:170.40px;width:55.90px;height:4.80px;background:#14a88a;"></div>
<div class="t" style="top:179.54px;font-size:7.6px;color:#e8413e;font-weight:700;letter-spacing:0.35px;left:250.70px;">42.3%</div>
<div class="t" style="top:179.54px;font-size:7.6px;color:#b4b4b4;font-weight:700;letter-spacing:0.05px;left:315.60px;transform:translateX(-50%);">EQUITY</div>
<div class="t" style="top:179.54px;font-size:7.6px;color:#18b08f;font-weight:700;letter-spacing:0.35px;right:707.80px;">57.7%</div>
<div class="abs" style="left:250.70px;top:189.80px;width:130.50px;height:4.80px;background:#1f1f1f;border-radius:2.4px"></div>
<div class="abs" style="left:288.00px;top:189.80px;width:27.60px;height:4.80px;background:#555555;"></div>
<div class="abs" style="left:315.60px;top:189.80px;width:38.40px;height:4.80px;background:#14a88a;"></div>
<div class="t" style="top:198.94px;font-size:7.6px;color:#e8413e;font-weight:700;letter-spacing:0.35px;left:250.70px;">82%</div>
<div class="t" style="top:198.94px;font-size:7.6px;color:#b4b4b4;font-weight:700;letter-spacing:0.05px;left:315.60px;transform:translateX(-50%);">EQR</div>
<div class="t" style="top:198.94px;font-size:7.6px;color:#18b08f;font-weight:700;letter-spacing:0.35px;right:707.80px;">146.7%</div>
<div class="abs" style="left:250.70px;top:209.20px;width:130.50px;height:4.80px;background:#1f1f1f;border-radius:2.4px"></div>
<div class="abs" style="left:292.00px;top:209.20px;width:23.60px;height:4.80px;background:#555555;"></div>
<div class="abs" style="left:315.60px;top:209.20px;width:42.30px;height:4.80px;background:#14a88a;"></div>
<div class="abs" style="left:249.80px;top:219.80px;width:131.90px;height:11.70px;background:#1f1f1f;border-radius:2px"></div>
<div class="abs" style="left:367.40px;top:219.80px;width:0.80px;height:11.70px;background:#2c2c2c;"></div>
<svg style="left:266px;top:221.8px" width="8" height="8" viewBox="0 0 8 8"><path d="M4 0.6 L7.4 2.3 L4 4 L0.6 2.3Z M0.6 4 L4 5.7 L7.4 4 M0.6 5.7 L4 7.4 L7.4 5.7" fill="none" stroke="#e8e8e8" stroke-width="0.9"/></svg>
<div class="t" style="top:222.13px;font-size:7.4px;color:#e4e4e4;letter-spacing:-0.4px;left:277.50px;-webkit-text-stroke:0.3px #e4e4e4;">EQ BUCKETS - SIMPLE</div>
<svg style="left:372px;top:224.5px" width="5" height="3" viewBox="0 0 5 3"><path d="M0 0H5L2.5 2.8Z" fill="#9a9aa6"/></svg>
<div class="t" style="top:237.74px;font-size:7.6px;color:#18b08f;font-weight:700;letter-spacing:0.35px;left:250.70px;">12.5%</div>
<div class="t" style="top:237.74px;font-size:7.6px;color:#f0f0f0;font-weight:700;letter-spacing:-0.2px;left:315.60px;transform:translateX(-50%);">BEST HANDS</div>
<div class="t" style="top:237.74px;font-size:7.6px;color:#e8413e;font-weight:700;letter-spacing:0.35px;right:707.80px;">0%</div>
<div class="abs" style="left:250.70px;top:248.00px;width:130.50px;height:4.80px;background:#1f1f1f;border-radius:2.4px"></div>
<div class="abs" style="left:250.70px;top:248.00px;width:64.90px;height:4.80px;background:#14a88a;border-top-left-radius:2.4px;border-bottom-left-radius:2.4px;"></div>
<div class="t" style="top:257.34px;font-size:7.6px;color:#e8413e;font-weight:700;letter-spacing:0.35px;left:250.70px;">2.9%</div>
<div class="t" style="top:257.34px;font-size:7.6px;color:#f0f0f0;font-weight:700;letter-spacing:-0.2px;left:315.60px;transform:translateX(-50%);">GOOD HANDS</div>
<div class="t" style="top:257.34px;font-size:7.6px;color:#18b08f;font-weight:700;letter-spacing:0.35px;right:707.80px;">81.2%</div>
<div class="abs" style="left:250.70px;top:267.60px;width:130.50px;height:4.80px;background:#1f1f1f;border-radius:2.4px"></div>
<div class="abs" style="left:312.70px;top:267.60px;width:2.90px;height:4.80px;background:#555555;"></div>
<div class="abs" style="left:315.60px;top:267.60px;width:63.60px;height:4.80px;background:#14a88a;"></div>
<div class="t" style="top:276.54px;font-size:7.6px;color:#18b08f;font-weight:700;letter-spacing:0.35px;left:250.70px;">49.2%</div>
<div class="t" style="top:276.54px;font-size:7.6px;color:#f0f0f0;font-weight:700;letter-spacing:-0.2px;left:315.60px;transform:translateX(-50%);">WEAK HANDS</div>
<div class="t" style="top:276.54px;font-size:7.6px;color:#e8413e;font-weight:700;letter-spacing:0.35px;right:707.80px;">18.8%</div>
<div class="abs" style="left:250.70px;top:286.80px;width:130.50px;height:4.80px;background:#1f1f1f;border-radius:2.4px"></div>
<div class="abs" style="left:267.90px;top:286.80px;width:47.70px;height:4.80px;background:#14a88a;"></div>
<div class="abs" style="left:315.60px;top:286.80px;width:18.40px;height:4.80px;background:#555555;"></div>
<div class="t" style="top:296.24px;font-size:7.6px;color:#18b08f;font-weight:700;letter-spacing:0.35px;left:250.70px;">35.5%</div>
<div class="t" style="top:296.24px;font-size:7.6px;color:#f0f0f0;font-weight:700;letter-spacing:-0.2px;left:315.60px;transform:translateX(-50%);">TRASH HANDS</div>
<div class="t" style="top:296.24px;font-size:7.6px;color:#e8413e;font-weight:700;letter-spacing:0.35px;right:707.80px;">0%</div>
<div class="abs" style="left:250.70px;top:306.50px;width:130.50px;height:4.80px;background:#1f1f1f;border-radius:2.4px"></div>
<div class="abs" style="left:250.70px;top:306.50px;width:64.90px;height:4.80px;background:#14a88a;border-top-left-radius:2.4px;border-bottom-left-radius:2.4px;"></div>
<svg style="left:0;top:0" width="1089" height="613" viewBox="0 0 1089 613">
<path d="M12 379.5 H20 M93 379.5 H622.3 M16.5 379.5 V607 M12 603.3 H622.3 M622.3 379.5 V607 M16.5 491.3 H622.3 M319.5 379.5 V607" stroke="#2e2e2e" stroke-width="1" fill="none"/>
<polyline points="16.3,523.1 23.3,516.8 37.4,516.4 44.9,511.3 98.1,510.7 104.0,505.9 118.7,504.9 121.2,500.0 126.5,499.2 129.9,487.8 170.0,486.9 198.7,486.2 206.1,482.7 237.1,481.5 251.2,474.3 254.1,473.3 262.0,472.3 265.9,470.4 274.7,469.0 284.5,467.0 291.3,466.0 297.2,462.9 311.9,462.5 325.0,461.0 328.8,460.6 472.8,459.2 482.8,456.6 486.8,453.3 520.0,453.1 547.5,452.7 553.3,452.3 572.9,451.9 584.7,451.1 622.3,451.1" fill="none" stroke="#17a78a" stroke-width="1.9" stroke-linejoin="round"/>
<polyline points="16.3,577.9 19.8,577.9 26.6,569.7 46.2,569.3 49.2,566.6 58.0,565.8 63.9,565.0 66.8,556.8 84.0,556.4 86.4,554.4 86.8,547.6 88.7,538.8 90.7,532.5 170.0,531.9 214.0,531.9 227.7,531.1 230.6,529.5 234.5,529.1 243.3,525.2 268.8,525.2 284.5,522.6 290.3,522.5 293.3,521.5 325.0,521.3 330.8,520.9 335.7,519.3 384.6,518.9 391.5,515.8 407.2,513.4 435.5,512.9 445.3,509.5 448.3,506.6 457.1,505.6 464.9,504.2 469.8,502.7 481.9,502.6 483.8,500.8 492.6,500.7 503.4,498.9 516.1,498.9 529.4,437.4 537.3,435.4 547.1,419.8 564.1,419.4 566.1,411.9 574.9,411.9 581.7,411.2 593.5,410.8 596.0,406.8 602.3,405.7 622.3,405.7" fill="none" stroke="#2aaae2" stroke-width="1.9" stroke-linejoin="round"/>
<circle cx="306.4" cy="521.5" r="3.9" fill="#ffb200" stroke="#f6eedc" stroke-width="1.1"/>
<circle cx="403.4" cy="514.8" r="3.9" fill="#ffb200" stroke="#f6eedc" stroke-width="1.1"/>
<circle cx="439.3" cy="510.9" r="3.9" fill="#ffb200" stroke="#f6eedc" stroke-width="1.1"/>
<circle cx="28.4" cy="398" r="3.4" fill="#2aaae2"/><circle cx="28.4" cy="408" r="3.4" fill="#17a78a"/>
</svg>
<div class="t" style="top:375.88px;font-size:7.1px;color:#9c9c9c;letter-spacing:-0.35px;left:22.70px;">EQUITY GRAPH</div>
<svg style="left:78.3px;top:375px" width="9" height="9" viewBox="0 0 9 9"><path d="M0.7 3V0.7H3 M6 0.7H8.3V3 M8.3 6V8.3H6 M3 8.3H0.7V6" fill="none" stroke="#f0f0f0" stroke-width="1.3"/></svg>
<div class="t" style="top:394.63px;font-size:7px;color:#9a9a9a;left:36.40px;">BB</div>
<div class="t" style="top:404.63px;font-size:7px;color:#9a9a9a;left:36.40px;">BTN</div>
<div class="t" style="top:381.13px;font-size:7px;color:#3c3c3c;letter-spacing:-0.2px;right:1075.30px;">100</div>
<div class="t" style="top:492.13px;font-size:7px;color:#3c3c3c;letter-spacing:-0.2px;right:1075.30px;">50</div>
<div class="t" style="top:604.63px;font-size:7px;color:#3c3c3c;letter-spacing:-0.2px;right:770.70px;">50</div>
<div class="t" style="top:604.63px;font-size:7px;color:#3c3c3c;letter-spacing:-0.2px;right:468.00px;">100</div>
<div class="abs" style="left:633.70px;top:127.60px;width:455.30px;height:25.10px;background:#1e1e1e;"></div>
<div class="abs" style="left:722.20px;top:130.80px;width:29.00px;height:19.90px;background:#272727;border-radius:2px"></div>
<div class="t" style="top:136.85px;font-size:8.2px;color:#c8c8c8;font-weight:700;letter-spacing:0.1px;left:736.70px;transform:translateX(-50%);">UTG</div>
<div class="abs" style="left:754.00px;top:130.80px;width:29.00px;height:19.90px;background:#272727;border-radius:2px"></div>
<div class="t" style="top:136.85px;font-size:8.2px;color:#c8c8c8;font-weight:700;letter-spacing:0.1px;left:768.50px;transform:translateX(-50%);">HJ</div>
<div class="abs" style="left:785.40px;top:130.80px;width:29.00px;height:19.90px;background:#272727;border-radius:2px"></div>
<div class="t" style="top:136.85px;font-size:8.2px;color:#c8c8c8;font-weight:700;letter-spacing:0.1px;left:799.90px;transform:translateX(-50%);">CO</div>
<div class="abs" style="left:817.30px;top:130.80px;width:29.30px;height:19.90px;background:#272727;border-radius:2px"></div>
<div class="t" style="top:136.85px;font-size:8.2px;color:#f0f0f0;font-weight:700;letter-spacing:0.1px;left:831.95px;transform:translateX(-50%);">BTN</div>
<div class="abs" style="left:849.40px;top:130.80px;width:29.10px;height:19.90px;background:#272727;border-radius:2px"></div>
<div class="t" style="top:136.85px;font-size:8.2px;color:#c8c8c8;font-weight:700;letter-spacing:0.1px;left:863.95px;transform:translateX(-50%);">SB</div>
<div class="abs" style="left:881.00px;top:130.80px;width:29.60px;height:19.90px;background:#272727;border-radius:2px"></div>
<div class="t" style="top:132.84px;font-size:7.8px;color:#17bb93;font-weight:700;letter-spacing:0.0px;left:895.80px;transform:translateX(-50%);">BB</div>
<div class="t" style="top:142.04px;font-size:7.8px;color:#17bb93;font-weight:700;letter-spacing:0.0px;left:895.80px;transform:translateX(-50%);">73</div>
<div class="t" style="top:132.95px;font-size:8.2px;color:#f4f4f4;font-weight:700;letter-spacing:-0.1px;left:936.30px;transform:translateX(-50%);">127.5 BB</div>
<div class="t" style="top:143.44px;font-size:7.8px;color:#9a9a9a;letter-spacing:0.1px;left:936.50px;transform:translateX(-50%);-webkit-text-stroke:0.25px #9a9a9a;">54.5 BB</div>
<div class="abs" style="left:962.10px;top:131.10px;width:11.70px;height:19.80px;background:#8e0a0a;border-radius:2px"></div>
<svg style="left:963.30px;top:132.50px" width="4.8" height="4.1" viewBox="0 0 10 10" preserveAspectRatio="none"><path d="M5 9.2 L1 5.2 C-0.6 3.6 0 0.6 2.6 0.6 C3.7 0.6 4.5 1.3 5 2.2 C5.5 1.3 6.3 0.6 7.4 0.6 C10 0.6 10.6 3.6 9 5.2 Z" fill="#520000"/></svg>
<div class="t" style="left:962.10px;width:11.70px;text-align:center;top:137.55px;font-size:11.5px;color:#fff;font-weight:400">J</div>
<div class="abs" style="left:974.50px;top:131.10px;width:11.50px;height:19.80px;background:#2a3ac8;border-radius:2px"></div>
<svg style="left:976.00px;top:132.30px" width="3.6" height="4.4" viewBox="0 0 10 10" preserveAspectRatio="none"><path d="M5 0 L9 5 L5 10 L1 5 Z" fill="#15207a"/></svg>
<div class="t" style="left:974.50px;width:11.50px;text-align:center;top:137.55px;font-size:11.5px;color:#fff;font-weight:400">T</div>
<div class="abs" style="left:986.90px;top:131.10px;width:11.90px;height:19.80px;background:#0ea62a;border-radius:2px"></div>
<svg style="left:987.90px;top:132.10px" width="4.2" height="4.6" viewBox="0 0 10 10" preserveAspectRatio="none"><path d="M5 0.3 C6.6 0.3 7.5 1.5 7.3 3 C6.9 4.2 6.4 4.3 6.4 4.3 C7.8 3.7 9.8 4.4 9.8 6.1 C9.8 7.8 7.6 8.6 5.9 7 L6.6 9.7 H3.4 L4.1 7 C2.4 8.6 0.2 7.8 0.2 6.1 C0.2 4.4 2.2 3.7 3.6 4.3 C3.6 4.3 3.1 4.2 2.7 3 C2.5 1.5 3.4 0.3 5 0.3 Z" fill="#066a16"/></svg>
<div class="t" style="left:986.90px;width:11.90px;text-align:center;top:137.55px;font-size:11.5px;color:#fff;font-weight:400">7</div>
<div class="abs" style="left:634.00px;top:155.50px;width:225.20px;height:89.30px;background:#5cb86a;border-radius:2px"></div>
<div class="abs" style="left:861.70px;top:155.50px;width:225.10px;height:89.40px;background:#3a7d9a;border-radius:2px"></div>
<div class="t" style="top:161.51px;font-size:14.3px;color:#f6f6f6;left:638.60px;">Call</div>
<div class="t" style="top:161.51px;font-size:14.3px;color:#f6f6f6;left:866.30px;">Fold</div>
<div class="t" style="top:219.84px;font-size:24.2px;color:#f8f8f8;letter-spacing:-0.2px;left:639.00px;">52.5%</div>
<div class="t" style="top:219.84px;font-size:24.2px;color:#f8f8f8;letter-spacing:-0.2px;left:866.30px;">47.5%</div>
<div class="t" style="top:224.14px;font-size:8px;color:#f0f0f0;right:234.00px;">24.42</div>
<div class="t" style="top:234.69px;font-size:7.5px;color:#d6ecd8;right:234.00px;">combos</div>
<div class="t" style="top:224.14px;font-size:8px;color:#f0f0f0;right:6.00px;">22.07</div>
<div class="t" style="top:234.69px;font-size:7.5px;color:#cfe0e8;right:6.00px;">combos</div>
<svg style="left:848.5px;top:159.3px" width="8" height="9" viewBox="0 0 8 9"><rect x="0.5" y="0.5" width="7" height="8" rx="1.2" fill="none" stroke="#e8f5ea" stroke-width="0.9"/><path d="M2 2.8H6 M2 4.5H6 M2 6.2H4" stroke="#e8f5ea" stroke-width="0.9"/></svg>
<svg style="left:1075.7px;top:159.3px" width="8" height="9" viewBox="0 0 8 9"><rect x="0.5" y="0.5" width="7" height="8" rx="1.2" fill="none" stroke="#dceaf0" stroke-width="0.9"/><path d="M2 2.8H6 M2 4.5H6 M2 6.2H4" stroke="#dceaf0" stroke-width="0.9"/></svg>
<div class="abs" style="left:634.00px;top:248.00px;width:420.30px;height:8.20px;background:#3a7d9a;border-radius:4.1px"></div>
<div class="abs" style="left:634.00px;top:248.00px;width:220.80px;height:8.20px;background:#5cb86a;border-radius:4.1px 0 0 4.1px"></div>
<div class="abs" style="left:1059.00px;top:246.60px;width:28.00px;height:10.50px;background:#1f1f1f;border-radius:2px"></div>
<div class="abs" style="left:1073.20px;top:246.60px;width:0.80px;height:10.50px;background:#2e2e2e;"></div>
<svg style="left:1062.5px;top:248.3px" width="7" height="7" viewBox="0 0 7 7"><path d="M1.2 0V7 M3.5 0V7 M5.8 0V7 M0 1.2H7 M0 3.5H7 M0 5.8H7" stroke="#e8e8e8" stroke-width="0.9"/></svg>
<svg style="left:1077.5px;top:250.5px" width="5" height="3" viewBox="0 0 5 3"><path d="M0 0H5L2.5 2.8Z" fill="#9a9aa6"/></svg>
<div class="abs" style="left:785.40px;top:259.00px;width:70.50px;height:16.00px;background:#252525;border-radius:3px 3px 0 0"></div>
<div class="abs" style="left:634.00px;top:274.40px;width:455.00px;height:1.00px;background:#262626;"></div>
<div class="abs" style="left:785.40px;top:274.00px;width:70.50px;height:1.60px;background:#10886d;"></div>
<div class="t" style="top:263.05px;font-size:8.6px;color:#e2e2e2;font-weight:700;letter-spacing:0.2px;left:650.70px;">HANDS</div>
<div class="t" style="top:263.05px;font-size:8.6px;color:#e2e2e2;font-weight:700;letter-spacing:0.2px;left:719.00px;">SUMMARY</div>
<div class="t" style="top:263.05px;font-size:8.6px;color:#e2e2e2;font-weight:700;letter-spacing:0.2px;left:802.60px;">FILTERS</div>
<div class="abs" style="left:1059.00px;top:262.00px;width:28.00px;height:10.30px;background:#1f1f1f;border-radius:2px"></div>
<div class="abs" style="left:1073.20px;top:262.00px;width:0.80px;height:10.30px;background:#2e2e2e;"></div>
<svg style="left:1062.5px;top:263.8px" width="7" height="7" viewBox="0 0 7 7"><rect x="0.5" y="0.5" width="6" height="6" fill="none" stroke="#e8e8e8" stroke-width="1"/><rect x="0.5" y="0.5" width="3" height="6" fill="#e8e8e8"/></svg>
<svg style="left:1077.5px;top:266px" width="5" height="3" viewBox="0 0 5 3"><path d="M0 0H5L2.5 2.8Z" fill="#e8e8e8"/></svg>
<div class="t" style="top:282.22px;font-size:6.8px;color:#8a8a8a;letter-spacing:0.1px;left:637.00px;">HANDS</div>
<div class="t" style="top:282.22px;font-size:6.8px;color:#8a8a8a;letter-spacing:0.1px;left:862.50px;">DRAWS</div>
<div class="abs" style="left:637.80px;top:293.30px;width:9.00px;height:9.00px;background:transparent;border:1.2px solid #e6e6e6;border-radius:1px"></div>
<div class="t" style="top:293.51px;font-size:8.9px;color:#f0f0f0;letter-spacing:0.0px;left:650.80px;-webkit-text-stroke:0.25px #f0f0f0;">Straight</div>
<div class="t" style="top:293.51px;font-size:8.9px;color:#f0f0f0;letter-spacing:0.0px;right:350.50px;-webkit-text-stroke:0.25px #f0f0f0;">4.4%</div>
<div class="abs" style="left:743.20px;top:295.00px;width:109.00px;height:5.60px;background:#383838;border-radius:2.8px;overflow:hidden"></div>
<div class="abs" style="left:743.20px;top:295.00px;width:14.17px;height:5.60px;background:#5cb86a;border-radius:2.8px 0 0 2.8px"></div>
<div class="abs" style="left:637.80px;top:306.98px;width:9.00px;height:9.00px;background:transparent;border:1.2px solid #e6e6e6;border-radius:1px"></div>
<div class="t" style="top:307.19px;font-size:8.9px;color:#f0f0f0;letter-spacing:0.0px;left:650.80px;-webkit-text-stroke:0.25px #f0f0f0;">Set</div>
<div class="t" style="top:307.19px;font-size:8.9px;color:#f0f0f0;letter-spacing:0.0px;right:350.50px;-webkit-text-stroke:0.25px #f0f0f0;">4.9%</div>
<div class="abs" style="left:743.20px;top:308.68px;width:109.00px;height:5.60px;background:#383838;border-radius:2.8px;overflow:hidden"></div>
<div class="abs" style="left:743.20px;top:308.68px;width:16.35px;height:5.60px;background:#5cb86a;border-radius:2.8px 0 0 2.8px"></div>
<div class="abs" style="left:637.80px;top:320.66px;width:9.00px;height:9.00px;background:transparent;border:1.2px solid #e6e6e6;border-radius:1px"></div>
<div class="t" style="top:320.87px;font-size:8.9px;color:#f0f0f0;letter-spacing:0.0px;left:650.80px;-webkit-text-stroke:0.25px #f0f0f0;">Two pair</div>
<div class="t" style="top:320.87px;font-size:8.9px;color:#f0f0f0;letter-spacing:0.0px;right:350.50px;-webkit-text-stroke:0.25px #f0f0f0;">2.9%</div>
<div class="abs" style="left:743.20px;top:322.36px;width:109.00px;height:5.60px;background:#383838;border-radius:2.8px;overflow:hidden"></div>
<div class="abs" style="left:743.20px;top:322.36px;width:9.81px;height:5.60px;background:#5cb86a;border-radius:2.8px 0 0 2.8px"></div>
<div class="abs" style="left:637.80px;top:334.34px;width:9.00px;height:9.00px;background:transparent;border:1.2px solid #e6e6e6;border-radius:1px"></div>
<div class="t" style="top:334.55px;font-size:8.9px;color:#f0f0f0;letter-spacing:0.0px;left:650.80px;-webkit-text-stroke:0.25px #f0f0f0;">Overpair</div>
<div class="t" style="top:334.55px;font-size:8.9px;color:#f0f0f0;letter-spacing:0.0px;right:350.50px;-webkit-text-stroke:0.25px #f0f0f0;">3.2%</div>
<div class="abs" style="left:743.20px;top:336.04px;width:109.00px;height:5.60px;background:#383838;border-radius:2.8px;overflow:hidden"></div>
<div class="abs" style="left:743.20px;top:336.04px;width:10.25px;height:5.60px;background:#5cb86a;border-radius:2.8px 0 0 2.8px"></div>
<div class="abs" style="left:637.80px;top:348.02px;width:9.00px;height:9.00px;background:transparent;border:1.2px solid #e6e6e6;border-radius:1px"></div>
<div class="t" style="top:348.23px;font-size:8.9px;color:#f0f0f0;letter-spacing:0.0px;left:650.80px;-webkit-text-stroke:0.25px #f0f0f0;">Top pair</div>
<div class="t" style="top:348.23px;font-size:8.9px;color:#f0f0f0;letter-spacing:0.0px;right:350.50px;-webkit-text-stroke:0.25px #f0f0f0;">6.7%</div>
<div class="abs" style="left:743.20px;top:349.72px;width:109.00px;height:5.60px;background:#383838;border-radius:2.8px;overflow:hidden"></div>
<div class="abs" style="left:743.20px;top:349.72px;width:21.80px;height:5.60px;background:#5cb86a;border-radius:2.8px 0 0 2.8px"></div>
<div class="abs" style="left:637.80px;top:361.70px;width:9.00px;height:9.00px;background:transparent;border:1.2px solid #e6e6e6;border-radius:1px"></div>
<div class="t" style="top:361.91px;font-size:8.9px;color:#f0f0f0;letter-spacing:0.0px;left:650.80px;-webkit-text-stroke:0.25px #f0f0f0;">Second pair</div>
<div class="t" style="top:361.91px;font-size:8.9px;color:#f0f0f0;letter-spacing:0.0px;right:350.50px;-webkit-text-stroke:0.25px #f0f0f0;">11.5%</div>
<div class="abs" style="left:743.20px;top:363.40px;width:109.00px;height:5.60px;background:#383838;border-radius:2.8px;overflow:hidden"></div>
<div class="abs" style="left:743.20px;top:363.40px;width:36.52px;height:5.60px;background:#5cb86a;border-radius:2.8px 0 0 2.8px"></div>
<div class="abs" style="left:637.80px;top:375.38px;width:9.00px;height:9.00px;background:transparent;border:1.2px solid #e6e6e6;border-radius:1px"></div>
<div class="t" style="top:375.59px;font-size:8.9px;color:#f0f0f0;letter-spacing:0.0px;left:650.80px;-webkit-text-stroke:0.25px #f0f0f0;">Third pair</div>
<div class="t" style="top:375.59px;font-size:8.9px;color:#f0f0f0;letter-spacing:0.0px;right:350.50px;-webkit-text-stroke:0.25px #f0f0f0;">17%</div>
<div class="abs" style="left:743.20px;top:377.08px;width:109.00px;height:5.60px;background:#383838;border-radius:2.8px;overflow:hidden"></div>
<div class="abs" style="left:743.20px;top:377.08px;width:54.50px;height:5.60px;background:#3a84a6;border-radius:2.8px;border-top-right-radius:0;border-bottom-right-radius:0"></div>
<div class="abs" style="left:743.20px;top:377.08px;width:43.60px;height:5.60px;background:#5cb86a;border-radius:2.8px 0 0 2.8px"></div>
<div class="abs" style="left:637.80px;top:389.06px;width:9.00px;height:9.00px;background:transparent;border:1.2px solid #e6e6e6;border-radius:1px"></div>
<div class="t" style="top:389.27px;font-size:8.9px;color:#f0f0f0;letter-spacing:0.0px;left:650.80px;-webkit-text-stroke:0.25px #f0f0f0;">Ace high</div>
<div class="t" style="top:389.27px;font-size:8.9px;color:#f0f0f0;letter-spacing:0.0px;right:350.50px;-webkit-text-stroke:0.25px #f0f0f0;">34.3%</div>
<div class="abs" style="left:743.20px;top:390.76px;width:109.00px;height:5.60px;background:#383838;border-radius:2.8px;overflow:hidden"></div>
<div class="abs" style="left:743.20px;top:390.76px;width:109.00px;height:5.60px;background:#3a84a6;border-radius:2.8px"></div>
<div class="abs" style="left:637.80px;top:402.74px;width:9.00px;height:9.00px;background:transparent;border:1.2px solid #e6e6e6;border-radius:1px"></div>
<div class="t" style="top:402.95px;font-size:8.9px;color:#f0f0f0;letter-spacing:0.0px;left:650.80px;-webkit-text-stroke:0.25px #f0f0f0;">King high</div>
<div class="t" style="top:402.95px;font-size:8.9px;color:#f0f0f0;letter-spacing:0.0px;right:350.50px;-webkit-text-stroke:0.25px #f0f0f0;">9.9%</div>
<div class="abs" style="left:743.20px;top:404.44px;width:109.00px;height:5.60px;background:#383838;border-radius:2.8px;overflow:hidden"></div>
<div class="abs" style="left:743.20px;top:404.44px;width:31.61px;height:5.60px;background:#3a84a6;border-radius:2.8px;border-top-right-radius:0;border-bottom-right-radius:0"></div>
<div class="abs" style="left:743.20px;top:404.44px;width:17.44px;height:5.60px;background:#5cb86a;border-radius:2.8px 0 0 2.8px"></div>
<div class="abs" style="left:637.80px;top:416.42px;width:9.00px;height:9.00px;background:transparent;border:1.2px solid #e6e6e6;border-radius:1px"></div>
<div class="t" style="top:416.63px;font-size:8.9px;color:#f0f0f0;letter-spacing:0.0px;left:650.80px;-webkit-text-stroke:0.25px #f0f0f0;">No made hand</div>
<div class="t" style="top:416.63px;font-size:8.9px;color:#f0f0f0;letter-spacing:0.0px;right:350.50px;-webkit-text-stroke:0.25px #f0f0f0;">5.3%</div>
<div class="abs" style="left:743.20px;top:418.12px;width:109.00px;height:5.60px;background:#383838;border-radius:2.8px;overflow:hidden"></div>
<div class="abs" style="left:743.20px;top:418.12px;width:16.89px;height:5.60px;background:#3a84a6;border-radius:2.8px;border-top-right-radius:0;border-bottom-right-radius:0"></div>
<div class="t" style="top:436.32px;font-size:6.8px;color:#8a8a8a;letter-spacing:0.1px;left:637.00px;">EQUITY BUCKETS</div>
<svg style="left:699px;top:435.3px" width="7" height="7" viewBox="0 0 7 7"><circle cx="3.5" cy="3.5" r="3" fill="none" stroke="#8a8a8a" stroke-width="0.8"/><path d="M2.5 2.7 C2.5 1.6 4.5 1.6 4.5 2.7 C4.5 3.5 3.5 3.5 3.5 4.3" fill="none" stroke="#8a8a8a" stroke-width="0.8"/><circle cx="3.5" cy="5.3" r="0.4" fill="#8a8a8a"/></svg>
<div class="abs" style="left:637.80px;top:447.70px;width:9.00px;height:9.00px;background:transparent;border:1.2px solid #e6e6e6;border-radius:1px"></div>
<div class="t" style="top:447.91px;font-size:8.9px;color:#f0f0f0;letter-spacing:0.0px;left:650.80px;-webkit-text-stroke:0.25px #f0f0f0;">Best hands</div>
<div class="t" style="top:447.91px;font-size:8.9px;color:#f0f0f0;letter-spacing:0.0px;right:350.50px;-webkit-text-stroke:0.25px #f0f0f0;">12.5%</div>
<div class="abs" style="left:743.20px;top:449.40px;width:109.00px;height:5.60px;background:#383838;border-radius:2.8px;overflow:hidden"></div>
<div class="abs" style="left:743.20px;top:449.40px;width:27.80px;height:5.60px;background:#5cb86a;border-radius:2.8px 0 0 2.8px"></div>
<div class="abs" style="left:637.80px;top:461.43px;width:9.00px;height:9.00px;background:transparent;border:1.2px solid #e6e6e6;border-radius:1px"></div>
<div class="t" style="top:461.64px;font-size:8.9px;color:#f0f0f0;letter-spacing:0.0px;left:650.80px;-webkit-text-stroke:0.25px #f0f0f0;">Good hands</div>
<div class="t" style="top:461.64px;font-size:8.9px;color:#f0f0f0;letter-spacing:0.0px;right:350.50px;-webkit-text-stroke:0.25px #f0f0f0;">2.9%</div>
<div class="abs" style="left:743.20px;top:463.13px;width:109.00px;height:5.60px;background:#383838;border-radius:2.8px;overflow:hidden"></div>
<div class="abs" style="left:743.20px;top:463.13px;width:6.54px;height:5.60px;background:#5cb86a;border-radius:2.8px 0 0 2.8px"></div>
<div class="abs" style="left:637.80px;top:475.16px;width:9.00px;height:9.00px;background:transparent;border:1.2px solid #e6e6e6;border-radius:1px"></div>
<div class="t" style="top:475.37px;font-size:8.9px;color:#f0f0f0;letter-spacing:0.0px;left:650.80px;-webkit-text-stroke:0.25px #f0f0f0;">Weak hands</div>
<div class="t" style="top:475.37px;font-size:8.9px;color:#f0f0f0;letter-spacing:0.0px;right:350.50px;-webkit-text-stroke:0.25px #f0f0f0;">49.2%</div>
<div class="abs" style="left:743.20px;top:476.86px;width:109.00px;height:5.60px;background:#383838;border-radius:2.8px;overflow:hidden"></div>
<div class="abs" style="left:743.20px;top:476.86px;width:109.00px;height:5.60px;background:#3a84a6;border-radius:2.8px"></div>
<div class="abs" style="left:743.20px;top:476.86px;width:82.84px;height:5.60px;background:#5cb86a;border-radius:2.8px 0 0 2.8px"></div>
<div class="abs" style="left:637.80px;top:488.89px;width:9.00px;height:9.00px;background:transparent;border:1.2px solid #e6e6e6;border-radius:1px"></div>
<div class="t" style="top:489.10px;font-size:8.9px;color:#f0f0f0;letter-spacing:0.0px;left:650.80px;-webkit-text-stroke:0.25px #f0f0f0;">Trash hands</div>
<div class="t" style="top:489.10px;font-size:8.9px;color:#f0f0f0;letter-spacing:0.0px;right:350.50px;-webkit-text-stroke:0.25px #f0f0f0;">35.5%</div>
<div class="abs" style="left:743.20px;top:490.59px;width:109.00px;height:5.60px;background:#383838;border-radius:2.8px;overflow:hidden"></div>
<div class="abs" style="left:743.20px;top:490.59px;width:79.24px;height:5.60px;background:#3a84a6;border-radius:2.8px;border-top-right-radius:0;border-bottom-right-radius:0"></div>
<div class="abs" style="left:862.80px;top:293.30px;width:9.00px;height:9.00px;background:transparent;border:1.2px solid #e6e6e6;border-radius:1px"></div>
<div class="t" style="top:293.51px;font-size:8.9px;color:#f0f0f0;letter-spacing:0.0px;left:875.70px;-webkit-text-stroke:0.25px #f0f0f0;">OESD</div>
<div class="t" style="top:293.51px;font-size:8.9px;color:#f0f0f0;letter-spacing:0.0px;right:122.50px;-webkit-text-stroke:0.25px #f0f0f0;">7.6%</div>
<div class="abs" style="left:971.20px;top:295.00px;width:111.50px;height:5.60px;background:#383838;border-radius:2.8px;overflow:hidden"></div>
<div class="abs" style="left:971.20px;top:295.00px;width:16.84px;height:5.60px;background:#3a84a6;border-radius:2.8px;border-top-right-radius:0;border-bottom-right-radius:0"></div>
<div class="abs" style="left:971.20px;top:295.00px;width:12.15px;height:5.60px;background:#5cb86a;border-radius:2.8px 0 0 2.8px"></div>
<div class="abs" style="left:862.80px;top:307.00px;width:9.00px;height:9.00px;background:transparent;border:1.2px solid #e6e6e6;border-radius:1px"></div>
<div class="t" style="top:307.21px;font-size:8.9px;color:#f0f0f0;letter-spacing:0.0px;left:875.70px;-webkit-text-stroke:0.25px #f0f0f0;">Gutshot</div>
<div class="t" style="top:307.21px;font-size:8.9px;color:#f0f0f0;letter-spacing:0.0px;right:122.50px;-webkit-text-stroke:0.25px #f0f0f0;">48.6%</div>
<div class="abs" style="left:971.20px;top:308.70px;width:111.50px;height:5.60px;background:#383838;border-radius:2.8px;overflow:hidden"></div>
<div class="abs" style="left:971.20px;top:308.70px;width:111.50px;height:5.60px;background:#3a84a6;border-radius:2.8px"></div>
<div class="abs" style="left:971.20px;top:308.70px;width:41.81px;height:5.60px;background:#5cb86a;border-radius:2.8px 0 0 2.8px"></div>
<div class="abs" style="left:862.80px;top:320.70px;width:9.00px;height:9.00px;background:transparent;border:1.2px solid #e6e6e6;border-radius:1px"></div>
<div class="t" style="top:320.91px;font-size:8.9px;color:#f0f0f0;letter-spacing:0.0px;left:875.70px;-webkit-text-stroke:0.25px #f0f0f0;">BDFD nut</div>
<div class="t" style="top:320.91px;font-size:8.9px;color:#f0f0f0;letter-spacing:0.0px;right:122.50px;-webkit-text-stroke:0.25px #f0f0f0;">8.7%</div>
<div class="abs" style="left:971.20px;top:322.40px;width:111.50px;height:5.60px;background:#383838;border-radius:2.8px;overflow:hidden"></div>
<div class="abs" style="left:971.20px;top:322.40px;width:19.96px;height:5.60px;background:#3a84a6;border-radius:2.8px;border-top-right-radius:0;border-bottom-right-radius:0"></div>
<div class="abs" style="left:971.20px;top:322.40px;width:12.49px;height:5.60px;background:#5cb86a;border-radius:2.8px 0 0 2.8px"></div>
<div class="abs" style="left:862.80px;top:334.40px;width:9.00px;height:9.00px;background:transparent;border:1.2px solid #e6e6e6;border-radius:1px"></div>
<div class="t" style="top:334.61px;font-size:8.9px;color:#f0f0f0;letter-spacing:0.0px;left:875.70px;-webkit-text-stroke:0.25px #f0f0f0;">BDFD broadway</div>
<div class="t" style="top:334.61px;font-size:8.9px;color:#f0f0f0;letter-spacing:0.0px;right:122.50px;-webkit-text-stroke:0.25px #f0f0f0;">7.8%</div>
<div class="abs" style="left:971.20px;top:336.10px;width:111.50px;height:5.60px;background:#383838;border-radius:2.8px;overflow:hidden"></div>
<div class="abs" style="left:971.20px;top:336.10px;width:17.62px;height:5.60px;background:#3a84a6;border-radius:2.8px;border-top-right-radius:0;border-bottom-right-radius:0"></div>
<div class="abs" style="left:971.20px;top:336.10px;width:13.71px;height:5.60px;background:#5cb86a;border-radius:2.8px 0 0 2.8px"></div>
<div class="abs" style="left:862.80px;top:348.10px;width:9.00px;height:9.00px;background:transparent;border:1.2px solid #e6e6e6;border-radius:1px"></div>
<div class="t" style="top:348.31px;font-size:8.9px;color:#f0f0f0;letter-spacing:0.0px;left:875.70px;-webkit-text-stroke:0.25px #f0f0f0;">BDFD mid</div>
<div class="t" style="top:348.31px;font-size:8.9px;color:#f0f0f0;letter-spacing:0.0px;right:122.50px;-webkit-text-stroke:0.25px #f0f0f0;">5.4%</div>
<div class="abs" style="left:971.20px;top:349.80px;width:111.50px;height:5.60px;background:#383838;border-radius:2.8px;overflow:hidden"></div>
<div class="abs" style="left:971.20px;top:349.80px;width:12.49px;height:5.60px;background:#3a84a6;border-radius:2.8px;border-top-right-radius:0;border-bottom-right-radius:0"></div>
<div class="abs" style="left:971.20px;top:349.80px;width:8.59px;height:5.60px;background:#5cb86a;border-radius:2.8px 0 0 2.8px"></div>
<div class="abs" style="left:862.80px;top:361.80px;width:9.00px;height:9.00px;background:transparent;border:1.2px solid #e6e6e6;border-radius:1px"></div>
<div class="t" style="top:362.01px;font-size:8.9px;color:#f0f0f0;letter-spacing:0.0px;left:875.70px;-webkit-text-stroke:0.25px #f0f0f0;">BDFD low</div>
<div class="t" style="top:362.01px;font-size:8.9px;color:#f0f0f0;letter-spacing:0.0px;right:122.50px;-webkit-text-stroke:0.25px #f0f0f0;">3.7%</div>
<div class="abs" style="left:971.20px;top:363.50px;width:111.50px;height:5.60px;background:#383838;border-radius:2.8px;overflow:hidden"></div>
<div class="abs" style="left:971.20px;top:363.50px;width:7.81px;height:5.60px;background:#3a84a6;border-radius:2.8px;border-top-right-radius:0;border-bottom-right-radius:0"></div>
<div class="abs" style="left:862.80px;top:375.50px;width:9.00px;height:9.00px;background:transparent;border:1.2px solid #e6e6e6;border-radius:1px"></div>
<div class="t" style="top:375.71px;font-size:8.9px;color:#f0f0f0;letter-spacing:0.0px;left:875.70px;-webkit-text-stroke:0.25px #f0f0f0;">No draw</div>
<div class="t" style="top:375.71px;font-size:8.9px;color:#f0f0f0;letter-spacing:0.0px;right:122.50px;-webkit-text-stroke:0.25px #f0f0f0;">18.2%</div>
<div class="abs" style="left:971.20px;top:377.20px;width:111.50px;height:5.60px;background:#383838;border-radius:2.8px;overflow:hidden"></div>
<div class="abs" style="left:971.20px;top:377.20px;width:41.81px;height:5.60px;background:#3a84a6;border-radius:2.8px;border-top-right-radius:0;border-bottom-right-radius:0"></div>
<div class="abs" style="left:971.20px;top:377.20px;width:30.89px;height:5.60px;background:#5cb86a;border-radius:2.8px 0 0 2.8px"></div>
</div></body></html>
